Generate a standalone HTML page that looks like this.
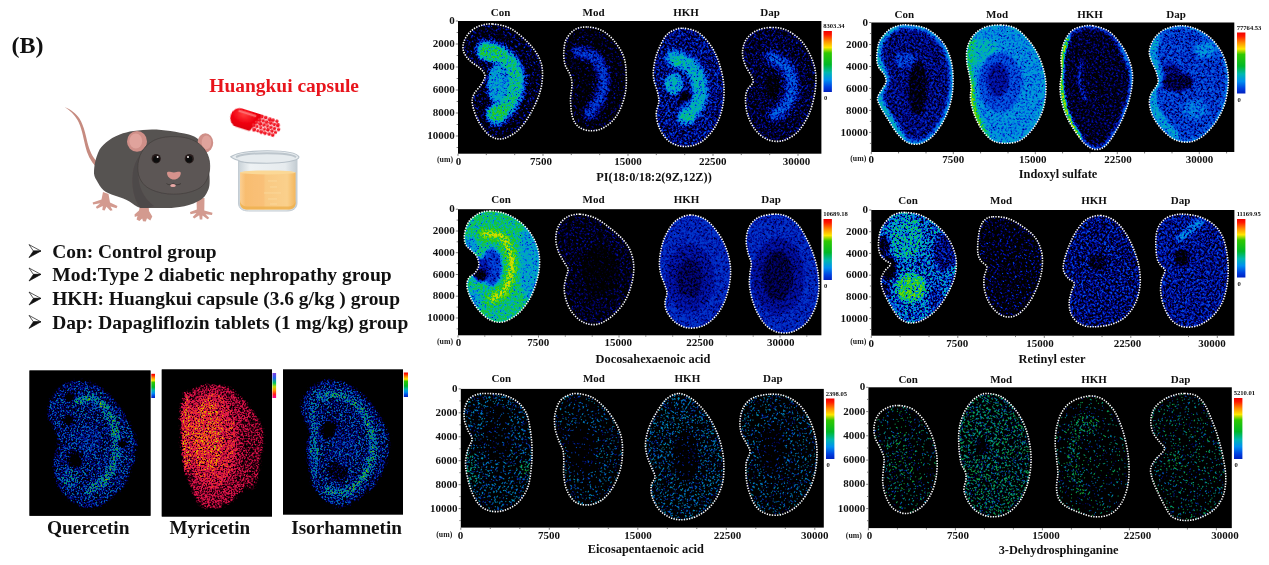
<!DOCTYPE html>
<html><head><meta charset="utf-8"><title>Figure B</title>
<style>
html,body{margin:0;padding:0;background:#fff;}
body{width:1269px;height:565px;overflow:hidden;font-family:"Liberation Serif",serif;}
svg{display:block;will-change:transform}
text{font-family:"Liberation Serif",serif;font-weight:bold;fill:#111}
.ax{font-size:11px}
.um{font-size:7.8px;fill:#222}
.cb{font-size:6.6px}
.tt{font-size:12.35px}
</style></head><body>
<svg width="1269" height="565" viewBox="0 0 1269 565">
<defs>
<linearGradient id="cbar" x1="0" y1="0" x2="0" y2="1">
<stop offset="0" stop-color="#f00000"/><stop offset="0.06" stop-color="#ff1800"/><stop offset="0.17" stop-color="#ff9000"/>
<stop offset="0.27" stop-color="#ffe800"/><stop offset="0.36" stop-color="#30c800"/><stop offset="0.55" stop-color="#00b828"/>
<stop offset="0.68" stop-color="#00b8b0"/><stop offset="0.8" stop-color="#0090f0"/><stop offset="0.92" stop-color="#0040e0"/><stop offset="1" stop-color="#0020c0"/>
</linearGradient>
<linearGradient id="cbar2" x1="0" y1="0" x2="0" y2="1">
<stop offset="0" stop-color="#8040e0"/><stop offset="0.2" stop-color="#2060f0"/><stop offset="0.4" stop-color="#00c060"/>
<stop offset="0.55" stop-color="#c0e000"/><stop offset="0.7" stop-color="#ff9000"/><stop offset="0.85" stop-color="#ff2020"/><stop offset="1" stop-color="#ff00a0"/>
</linearGradient>

<filter id="hm" color-interpolation-filters="sRGB" x="-5%" y="-5%" width="110%" height="110%">
<feGaussianBlur in="SourceGraphic" stdDeviation="1.6" result="src"/>
<feTurbulence type="fractalNoise" baseFrequency="0.56" numOctaves="2" seed="3" result="n"/>
<feColorMatrix in="n" type="matrix" values="0 1 0 0 0 0 1 0 0 0 0 1 0 0 0 0 0 0 0 1" result="ng"/>
<feColorMatrix in="n" type="matrix" values="0 0 2.1 0 -0.05 0 0 2.1 0 -0.05 0 0 2.1 0 -0.05 0 0 0 0 1" result="nv"/>
<feColorMatrix in="src" type="matrix" values="0 1 0 0 0 0 1 0 0 0 0 1 0 0 0 0 0 0 0 1" result="dens"/>
<feColorMatrix in="src" type="matrix" values="1 0 0 0 0 1 0 0 0 0 1 0 0 0 0 0 0 0 0 1" result="inten"/>
<feComposite in="ng" in2="dens" operator="arithmetic" k2="6.0" k3="6.0" k4="-4.199999999999999" result="mask"/>
<feComposite in="mask" in2="inten" operator="arithmetic" k1="1" result="p1"/>
<feComposite in="p1" in2="nv" operator="arithmetic" k1="1.08" result="p2"/>
<feGaussianBlur in="p2" stdDeviation="0.42" result="p3"/>
<feComponentTransfer in="p3"><feFuncR type="table" tableValues="0 0 0 0 0 0 .12 .6 1 1 1"/><feFuncG type="table" tableValues="0 0 .08 .32 .6 .74 .78 .86 .86 .47 0"/><feFuncB type="table" tableValues="0 .36 .68 .88 .86 .58 .12 0 0 0 0"/></feComponentTransfer>
</filter>
<filter id="hm2" color-interpolation-filters="sRGB" x="-5%" y="-5%" width="110%" height="110%">
<feGaussianBlur in="SourceGraphic" stdDeviation="1.6" result="src"/>
<feTurbulence type="fractalNoise" baseFrequency="0.8" numOctaves="2" seed="7" result="n"/>
<feColorMatrix in="n" type="matrix" values="0 1 0 0 0 0 1 0 0 0 0 1 0 0 0 0 0 0 0 1" result="ng"/>
<feColorMatrix in="n" type="matrix" values="0 0 2.1 0 -0.05 0 0 2.1 0 -0.05 0 0 2.1 0 -0.05 0 0 0 0 1" result="nv"/>
<feColorMatrix in="src" type="matrix" values="0 1 0 0 0 0 1 0 0 0 0 1 0 0 0 0 0 0 0 1" result="dens"/>
<feColorMatrix in="src" type="matrix" values="1 0 0 0 0 1 0 0 0 0 1 0 0 0 0 0 0 0 0 1" result="inten"/>
<feComposite in="ng" in2="dens" operator="arithmetic" k2="6.0" k3="6.0" k4="-4.199999999999999" result="mask"/>
<feComposite in="mask" in2="inten" operator="arithmetic" k1="1" result="p1"/>
<feComposite in="p1" in2="nv" operator="arithmetic" k1="1.08" result="p2"/>
<feGaussianBlur in="p2" stdDeviation="0.42" result="p3"/>
<feComponentTransfer in="p3"><feFuncR type="table" tableValues="0 .3 .62 .85 .93 .95 1 1 1 .9 .3"/><feFuncG type="table" tableValues="0 0 .03 .06 .1 .13 .22 .45 .65 .85 .8"/><feFuncB type="table" tableValues="0 .1 .2 .28 .32 .3 .15 .02 0 0 .2"/></feComponentTransfer>
</filter>
<filter id="hmf" color-interpolation-filters="sRGB" x="-5%" y="-5%" width="110%" height="110%">
<feGaussianBlur in="SourceGraphic" stdDeviation="1.6" result="src"/>
<feTurbulence type="fractalNoise" baseFrequency="0.8" numOctaves="2" seed="5" result="n"/>
<feColorMatrix in="n" type="matrix" values="0 1 0 0 0 0 1 0 0 0 0 1 0 0 0 0 0 0 0 1" result="ng"/>
<feColorMatrix in="n" type="matrix" values="0 0 2.1 0 -0.05 0 0 2.1 0 -0.05 0 0 2.1 0 -0.05 0 0 0 0 1" result="nv"/>
<feColorMatrix in="src" type="matrix" values="0 1 0 0 0 0 1 0 0 0 0 1 0 0 0 0 0 0 0 1" result="dens"/>
<feColorMatrix in="src" type="matrix" values="1 0 0 0 0 1 0 0 0 0 1 0 0 0 0 0 0 0 0 1" result="inten"/>
<feComposite in="ng" in2="dens" operator="arithmetic" k2="6.0" k3="6.0" k4="-4.199999999999999" result="mask"/>
<feComposite in="mask" in2="inten" operator="arithmetic" k1="1" result="p1"/>
<feComposite in="p1" in2="nv" operator="arithmetic" k1="1.08" result="p2"/>
<feGaussianBlur in="p2" stdDeviation="0.42" result="p3"/>
<feComponentTransfer in="p3"><feFuncR type="table" tableValues="0 0 0 0 0 0 .12 .6 1 1 1"/><feFuncG type="table" tableValues="0 0 .08 .32 .6 .74 .78 .86 .86 .47 0"/><feFuncB type="table" tableValues="0 .36 .68 .88 .86 .58 .12 0 0 0 0"/></feComponentTransfer>
</filter>
<filter id="hms" color-interpolation-filters="sRGB" x="-5%" y="-5%" width="110%" height="110%">
<feGaussianBlur in="SourceGraphic" stdDeviation="1.6" result="src"/>
<feTurbulence type="fractalNoise" baseFrequency="0.56" numOctaves="2" seed="11" result="n"/>
<feColorMatrix in="n" type="matrix" values="0 1 0 0 0 0 1 0 0 0 0 1 0 0 0 0 0 0 0 1" result="ng"/>
<feColorMatrix in="n" type="matrix" values="0 0 0.9 0 0.55 0 0 0.9 0 0.55 0 0 0.9 0 0.55 0 0 0 0 1" result="nv"/>
<feColorMatrix in="src" type="matrix" values="0 1 0 0 0 0 1 0 0 0 0 1 0 0 0 0 0 0 0 1" result="dens"/>
<feColorMatrix in="src" type="matrix" values="1 0 0 0 0 1 0 0 0 0 1 0 0 0 0 0 0 0 0 1" result="inten"/>
<feComposite in="ng" in2="dens" operator="arithmetic" k2="16" k3="16" k4="-10.88" result="mask"/>
<feComposite in="mask" in2="inten" operator="arithmetic" k1="1" result="p1"/>
<feComposite in="p1" in2="nv" operator="arithmetic" k1="1.0" result="p2"/>
<feComponentTransfer in="p2" result="p3"><feFuncR type="table" tableValues="0 0 0 0 0 0 .12 .6 1 1 1"/><feFuncG type="table" tableValues="0 0 .08 .32 .6 .74 .78 .86 .86 .47 0"/><feFuncB type="table" tableValues="0 .36 .68 .88 .86 .58 .12 0 0 0 0"/></feComponentTransfer>
<feGaussianBlur in="p3" stdDeviation="0.5"/>
</filter>
</defs>
<rect x="458" y="21" width="363.4" height="132.7" fill="#000"/>
<path d="M455.8 21h2.2M456.6 32.5h1.4M455.8 44h2.2M456.6 55.5h1.4M455.8 67h2.2M456.6 78.5h1.4M455.8 90h2.2M456.6 101.5h1.4M455.8 113h2.2M456.6 124.5h1.4M455.8 136h2.2M456.6 147.5h1.4M458 153.7v2.2M486.3 153.7v1.4M514.7 153.7v1.4M543 153.7v2.2M571.3 153.7v1.4M599.7 153.7v1.4M628 153.7v2.2M656.3 153.7v1.4M684.7 153.7v1.4M713 153.7v2.2M741.3 153.7v1.4M769.7 153.7v1.4M798 153.7v2.2" stroke="#444" stroke-width="0.7" fill="none"/>
<text class="ax" x="454.8" y="24.1" text-anchor="end">0</text>
<text class="ax" x="454.8" y="47.1" text-anchor="end">2000</text>
<text class="ax" x="454.8" y="70.1" text-anchor="end">4000</text>
<text class="ax" x="454.8" y="93.1" text-anchor="end">6000</text>
<text class="ax" x="454.8" y="116.1" text-anchor="end">8000</text>
<text class="ax" x="454.8" y="139.1" text-anchor="end">10000</text>
<text class="ax" x="458.4" y="164.7" text-anchor="middle">0</text>
<text class="ax" x="541" y="164.7" text-anchor="middle">7500</text>
<text class="ax" x="628" y="164.7" text-anchor="middle">15000</text>
<text class="ax" x="712.8" y="164.7" text-anchor="middle">22500</text>
<text class="ax" x="796.5" y="164.7" text-anchor="middle">30000</text>
<text class="um" x="453" y="162.3" text-anchor="end">(um)</text>
<rect x="823.5" y="31" width="8.4" height="61" fill="url(#cbar)"/>
<text class="cb" x="823.2" y="28.4">8303.34</text>
<text class="cb" x="824" y="100">0</text>
<rect x="871.3" y="22.5" width="363" height="129.5" fill="#000"/>
<path d="M869.1 22.5h2.2M869.9 33.5h1.4M869.1 44.5h2.2M869.9 55.5h1.4M869.1 66.5h2.2M869.9 77.5h1.4M869.1 88.4h2.2M869.9 99.4h1.4M869.1 110.4h2.2M869.9 121.4h1.4M869.1 132.4h2.2M869.9 143.4h1.4M871.3 152v2.2M898.6 152v1.4M926 152v1.4M953.3 152v2.2M980.6 152v1.4M1008 152v1.4M1035.3 152v2.2M1062.6 152v1.4M1090 152v1.4M1117.3 152v2.2M1144.6 152v1.4M1172 152v1.4M1199.3 152v2.2M1226.6 152v1.4" stroke="#444" stroke-width="0.7" fill="none"/>
<text class="ax" x="868.1" y="25.6" text-anchor="end">0</text>
<text class="ax" x="868.1" y="47.6" text-anchor="end">2000</text>
<text class="ax" x="868.1" y="69.6" text-anchor="end">4000</text>
<text class="ax" x="868.1" y="91.5" text-anchor="end">6000</text>
<text class="ax" x="868.1" y="113.5" text-anchor="end">8000</text>
<text class="ax" x="868.1" y="135.5" text-anchor="end">10000</text>
<text class="ax" x="871.2" y="163" text-anchor="middle">0</text>
<text class="ax" x="953.3" y="163" text-anchor="middle">7500</text>
<text class="ax" x="1032.7" y="163" text-anchor="middle">15000</text>
<text class="ax" x="1117.9" y="163" text-anchor="middle">22500</text>
<text class="ax" x="1199.4" y="163" text-anchor="middle">30000</text>
<text class="um" x="866.3" y="160.6" text-anchor="end">(um)</text>
<rect x="1237" y="32.5" width="8.4" height="61" fill="url(#cbar)"/>
<text class="cb" x="1236.7" y="29.9">77764.53</text>
<text class="cb" x="1237.5" y="101.5">0</text>
<rect x="458" y="209.2" width="363.4" height="126.1" fill="#000"/>
<path d="M455.8 209.2h2.2M456.6 220.1h1.4M455.8 231h2.2M456.6 241.8h1.4M455.8 252.7h2.2M456.6 263.6h1.4M455.8 274.5h2.2M456.6 285.4h1.4M455.8 296.2h2.2M456.6 307.1h1.4M455.8 318h2.2M456.6 328.9h1.4M458 335.3v2.2M484.8 335.3v1.4M511.7 335.3v1.4M538.5 335.3v2.2M565.3 335.3v1.4M592.2 335.3v1.4M619 335.3v2.2M645.8 335.3v1.4M672.7 335.3v1.4M699.5 335.3v2.2M726.3 335.3v1.4M753.2 335.3v1.4M780 335.3v2.2M806.8 335.3v1.4" stroke="#444" stroke-width="0.7" fill="none"/>
<text class="ax" x="454.8" y="212.3" text-anchor="end">0</text>
<text class="ax" x="454.8" y="234.1" text-anchor="end">2000</text>
<text class="ax" x="454.8" y="255.8" text-anchor="end">4000</text>
<text class="ax" x="454.8" y="277.6" text-anchor="end">6000</text>
<text class="ax" x="454.8" y="299.3" text-anchor="end">8000</text>
<text class="ax" x="454.8" y="321.1" text-anchor="end">10000</text>
<text class="ax" x="458.4" y="346.3" text-anchor="middle">0</text>
<text class="ax" x="538.3" y="346.3" text-anchor="middle">7500</text>
<text class="ax" x="618.3" y="346.3" text-anchor="middle">15000</text>
<text class="ax" x="700" y="346.3" text-anchor="middle">22500</text>
<text class="ax" x="780.7" y="346.3" text-anchor="middle">30000</text>
<text class="um" x="453" y="343.9" text-anchor="end">(um)</text>
<rect x="823.5" y="219" width="8.4" height="61" fill="url(#cbar)"/>
<text class="cb" x="823.2" y="216.4">10689.18</text>
<text class="cb" x="824" y="288">0</text>
<rect x="871.3" y="210" width="363.1" height="125.7" fill="#000"/>
<path d="M869.1 210h2.2M869.9 220.9h1.4M869.1 231.7h2.2M869.9 242.6h1.4M869.1 253.4h2.2M869.9 264.3h1.4M869.1 275.2h2.2M869.9 286h1.4M869.1 296.9h2.2M869.9 307.7h1.4M869.1 318.6h2.2M869.9 329.5h1.4M871.3 335.7v2.2M900.1 335.7v1.4M929 335.7v1.4M957.8 335.7v2.2M986.6 335.7v1.4M1015.5 335.7v1.4M1044.3 335.7v2.2M1073.1 335.7v1.4M1102 335.7v1.4M1130.8 335.7v2.2M1159.6 335.7v1.4M1188.5 335.7v1.4M1217.3 335.7v2.2" stroke="#444" stroke-width="0.7" fill="none"/>
<text class="ax" x="868.1" y="213.1" text-anchor="end">0</text>
<text class="ax" x="868.1" y="234.8" text-anchor="end">2000</text>
<text class="ax" x="868.1" y="256.5" text-anchor="end">4000</text>
<text class="ax" x="868.1" y="278.3" text-anchor="end">6000</text>
<text class="ax" x="868.1" y="300" text-anchor="end">8000</text>
<text class="ax" x="868.1" y="321.7" text-anchor="end">10000</text>
<text class="ax" x="871.2" y="346.7" text-anchor="middle">0</text>
<text class="ax" x="957.3" y="346.7" text-anchor="middle">7500</text>
<text class="ax" x="1040.1" y="346.7" text-anchor="middle">15000</text>
<text class="ax" x="1127.4" y="346.7" text-anchor="middle">22500</text>
<text class="ax" x="1211.9" y="346.7" text-anchor="middle">30000</text>
<text class="um" x="866.3" y="344.3" text-anchor="end">(um)</text>
<rect x="1237" y="219" width="8.4" height="58.5" fill="url(#cbar)"/>
<text class="cb" x="1236.7" y="216.4">11169.95</text>
<text class="cb" x="1237.5" y="285.5">0</text>
<rect x="460.8" y="388.9" width="363" height="138.7" fill="#000"/>
<path d="M458.6 388.9h2.2M459.4 400.9h1.4M458.6 412.8h2.2M459.4 424.8h1.4M458.6 436.8h2.2M459.4 448.8h1.4M458.6 460.7h2.2M459.4 472.7h1.4M458.6 484.7h2.2M459.4 496.6h1.4M458.6 508.6h2.2M459.4 520.6h1.4M460.8 527.6v2.2M490.3 527.6v1.4M519.8 527.6v1.4M549.3 527.6v2.2M578.8 527.6v1.4M608.3 527.6v1.4M637.8 527.6v2.2M667.3 527.6v1.4M696.8 527.6v1.4M726.3 527.6v2.2M755.8 527.6v1.4M785.3 527.6v1.4M814.8 527.6v2.2" stroke="#444" stroke-width="0.7" fill="none"/>
<text class="ax" x="457.6" y="392" text-anchor="end">0</text>
<text class="ax" x="457.6" y="415.9" text-anchor="end">2000</text>
<text class="ax" x="457.6" y="439.9" text-anchor="end">4000</text>
<text class="ax" x="457.6" y="463.8" text-anchor="end">6000</text>
<text class="ax" x="457.6" y="487.8" text-anchor="end">8000</text>
<text class="ax" x="457.6" y="511.7" text-anchor="end">10000</text>
<text class="ax" x="460.6" y="538.6" text-anchor="middle">0</text>
<text class="ax" x="549" y="538.6" text-anchor="middle">7500</text>
<text class="ax" x="638.1" y="538.6" text-anchor="middle">15000</text>
<text class="ax" x="727.4" y="538.6" text-anchor="middle">22500</text>
<text class="ax" x="814.7" y="538.6" text-anchor="middle">30000</text>
<text class="um" x="452.3" y="537.2" text-anchor="end">(um)</text>
<rect x="826" y="398.5" width="8.4" height="60.5" fill="url(#cbar)"/>
<text class="cb" x="825.7" y="395.9">2398.05</text>
<text class="cb" x="826.5" y="467">0</text>
<rect x="868.4" y="387.3" width="363.4" height="140.8" fill="#000"/>
<path d="M866.2 387.3h2.2M867 399.4h1.4M866.2 411.6h2.2M867 423.7h1.4M866.2 435.8h2.2M867 448h1.4M866.2 460.1h2.2M867 472.2h1.4M866.2 484.3h2.2M867 496.5h1.4M866.2 508.6h2.2M867 520.7h1.4M868.4 528.1v2.2M897.4 528.1v1.4M926.4 528.1v1.4M955.4 528.1v2.2M984.4 528.1v1.4M1013.4 528.1v1.4M1042.4 528.1v2.2M1071.4 528.1v1.4M1100.4 528.1v1.4M1129.4 528.1v2.2M1158.4 528.1v1.4M1187.4 528.1v1.4M1216.4 528.1v2.2" stroke="#444" stroke-width="0.7" fill="none"/>
<text class="ax" x="865.2" y="390.4" text-anchor="end">0</text>
<text class="ax" x="865.2" y="414.7" text-anchor="end">2000</text>
<text class="ax" x="865.2" y="438.9" text-anchor="end">4000</text>
<text class="ax" x="865.2" y="463.2" text-anchor="end">6000</text>
<text class="ax" x="865.2" y="487.4" text-anchor="end">8000</text>
<text class="ax" x="865.2" y="511.7" text-anchor="end">10000</text>
<text class="ax" x="869.6" y="539.1" text-anchor="middle">0</text>
<text class="ax" x="958" y="539.1" text-anchor="middle">7500</text>
<text class="ax" x="1046.1" y="539.1" text-anchor="middle">15000</text>
<text class="ax" x="1137.5" y="539.1" text-anchor="middle">22500</text>
<text class="ax" x="1224.9" y="539.1" text-anchor="middle">30000</text>
<text class="um" x="861.9" y="537.7" text-anchor="end">(um)</text>
<rect x="1234" y="398" width="8.4" height="61" fill="url(#cbar)"/>
<text class="cb" x="1233.7" y="395.4">5210.01</text>
<text class="cb" x="1234.5" y="467">0</text>
<text class="ax" x="500.5" y="16" text-anchor="middle">Con</text>
<text class="ax" x="593.5" y="16" text-anchor="middle">Mod</text>
<text class="ax" x="686" y="16" text-anchor="middle">HKH</text>
<text class="ax" x="770" y="16" text-anchor="middle">Dap</text>
<text class="ax" x="904.3" y="17.6" text-anchor="middle">Con</text>
<text class="ax" x="997" y="17.6" text-anchor="middle">Mod</text>
<text class="ax" x="1090" y="17.6" text-anchor="middle">HKH</text>
<text class="ax" x="1176" y="17.6" text-anchor="middle">Dap</text>
<text class="ax" x="501" y="203.4" text-anchor="middle">Con</text>
<text class="ax" x="593.5" y="203.4" text-anchor="middle">Mod</text>
<text class="ax" x="686.5" y="203.4" text-anchor="middle">HKH</text>
<text class="ax" x="771" y="203.4" text-anchor="middle">Dap</text>
<text class="ax" x="908" y="204.2" text-anchor="middle">Con</text>
<text class="ax" x="1001" y="204.2" text-anchor="middle">Mod</text>
<text class="ax" x="1094" y="204.2" text-anchor="middle">HKH</text>
<text class="ax" x="1180.5" y="204.2" text-anchor="middle">Dap</text>
<text class="ax" x="501.3" y="382.2" text-anchor="middle">Con</text>
<text class="ax" x="593.9" y="382.2" text-anchor="middle">Mod</text>
<text class="ax" x="687.4" y="382.2" text-anchor="middle">HKH</text>
<text class="ax" x="772.8" y="382.2" text-anchor="middle">Dap</text>
<text class="ax" x="908.2" y="383.4" text-anchor="middle">Con</text>
<text class="ax" x="1001.2" y="383.4" text-anchor="middle">Mod</text>
<text class="ax" x="1094" y="383.4" text-anchor="middle">HKH</text>
<text class="ax" x="1180.5" y="383.4" text-anchor="middle">Dap</text>
<text class="tt" x="654" y="181" text-anchor="middle">PI(18:0/18:2(9Z,12Z))</text>
<text class="tt" x="1058" y="178.2" text-anchor="middle">Indoxyl sulfate</text>
<text class="tt" x="653" y="363.2" text-anchor="middle">Docosahexaenoic acid</text>
<text class="tt" x="1052" y="362.5" text-anchor="middle">Retinyl ester</text>
<text class="tt" x="645.8" y="552.9" text-anchor="middle">Eicosapentaenoic acid</text>
<text class="tt" x="1058.6" y="554" text-anchor="middle">3-Dehydrosphinganine</text>
<clipPath id="c1"><path d="M492.5 24C497.5 24.4 504.2 25.2 510 28.2C515.8 31.2 522.7 37.2 527.5 42C532.3 46.8 536.2 52 538.8 57C541.2 62 542.3 66.2 542.5 72C542.7 77.8 542.1 84.9 540 92C537.9 99.1 533.8 108 530 114.5C526.2 121 522.1 126.7 517.5 130.8C512.9 134.8 507.1 137.9 502.5 138.8C497.9 139.6 494 138.5 490 135.8C486 133 481.7 127.2 478.8 122C475.8 116.8 473.3 109.1 472.5 104.5C471.7 99.9 472.3 97.8 473.8 94.5C475.2 91.2 479.4 87.6 481.2 84.5C483.1 81.4 485.2 78.5 485 75.8C484.8 73 482.5 70.8 480 68.2C477.5 65.8 472.7 63.5 470 60.8C467.3 58 464.8 55.1 463.8 52C462.7 48.9 462.7 45.3 463.8 42C464.8 38.7 467.3 34.7 470 32C472.7 29.3 476.2 27.1 480 25.8C483.8 24.4 487.5 23.6 492.5 24Z"/></clipPath>
<g clip-path="url(#c1)"><g transform="rotate(33 503.1 81.4)" filter="url(#hm)"><g transform="rotate(-33 503.1 81.4)">
<rect x="433.8" y="-6" width="138.8" height="174.8" fill="rgb(71,41,0)"/>
<path d="M485 50C487.3 50.7 494.5 51.3 499 54C503.5 56.7 509.2 61 512 66C514.8 71 515.8 78 515.5 84C515.2 90 513.1 96.7 510 102C506.9 107.3 499.2 113.7 497 116" fill="none" stroke="rgb(92,97,0)" stroke-width="21" stroke-linecap="round" stroke-linejoin="round"/>
<path d="M485 50C487.3 50.7 494.5 51.3 499 54C503.5 56.7 509.2 61 512 66C514.8 71 515.8 78 515.5 84C515.2 90 513.1 96.7 510 102C506.9 107.3 499.2 113.7 497 116" fill="none" stroke="rgb(133,128,0)" stroke-width="14" stroke-linecap="round" stroke-linejoin="round"/>
<ellipse cx="491" cy="53" rx="12" ry="9" fill="rgb(145,133,0)"/>
<ellipse cx="497" cy="113" rx="11" ry="8" fill="rgb(145,133,0)"/>
<ellipse cx="497" cy="84" rx="10" ry="20" fill="rgb(107,122,0)"/>
</g></g></g>
<path d="M492.5 24C497.5 24.4 504.2 25.2 510 28.2C515.8 31.2 522.7 37.2 527.5 42C532.3 46.8 536.2 52 538.8 57C541.2 62 542.3 66.2 542.5 72C542.7 77.8 542.1 84.9 540 92C537.9 99.1 533.8 108 530 114.5C526.2 121 522.1 126.7 517.5 130.8C512.9 134.8 507.1 137.9 502.5 138.8C497.9 139.6 494 138.5 490 135.8C486 133 481.7 127.2 478.8 122C475.8 116.8 473.3 109.1 472.5 104.5C471.7 99.9 472.3 97.8 473.8 94.5C475.2 91.2 479.4 87.6 481.2 84.5C483.1 81.4 485.2 78.5 485 75.8C484.8 73 482.5 70.8 480 68.2C477.5 65.8 472.7 63.5 470 60.8C467.3 58 464.8 55.1 463.8 52C462.7 48.9 462.7 45.3 463.8 42C464.8 38.7 467.3 34.7 470 32C472.7 29.3 476.2 27.1 480 25.8C483.8 24.4 487.5 23.6 492.5 24Z" fill="none" stroke="#fff" stroke-width="1.6" stroke-dasharray="1.35 1.25"/>
<clipPath id="c2"><path d="M587.5 27C592.1 27.2 597.9 28.2 602.5 30.8C607.1 33.2 611.5 37.6 615 42C618.5 46.4 621.9 51.6 623.8 57C625.6 62.4 626 68.2 626.2 74.5C626.5 80.8 626.5 87.8 625 94.5C623.5 101.2 620.8 109.1 617.5 114.5C614.2 119.9 609.4 124.3 605 127C600.6 129.7 595.6 130.8 591.2 130.8C586.9 130.8 581.9 129.3 578.8 127C575.6 124.7 573.9 121.6 572.5 117C571.1 112.4 570.6 104.9 570.5 99.5C570.4 94.1 572.1 88.7 572 84.5C571.9 80.3 571.2 77.8 570 74.5C568.8 71.2 566 68.2 565 64.5C564 60.8 563.5 56.2 563.8 52C564 47.8 564.4 43.2 566.2 39.5C568.1 35.8 571.5 31.6 575 29.5C578.5 27.4 582.9 26.8 587.5 27Z"/></clipPath>
<g clip-path="url(#c2)"><g transform="rotate(33 595 78.9)" filter="url(#hm)"><g transform="rotate(-33 595 78.9)">
<rect x="533.8" y="-3" width="122.5" height="163.8" fill="rgb(56,33,0)"/>
<path d="M578 52C580.8 53 590.7 53.7 595 58C599.3 62.3 603.2 71.3 604 78C604.8 84.7 602.3 92.2 600 98C597.7 103.8 591.7 110.5 590 113" fill="none" stroke="rgb(64,69,0)" stroke-width="16" stroke-linecap="round" stroke-linejoin="round"/>
<path d="M578 52C580.8 53 590.7 53.7 595 58C599.3 62.3 603.2 71.3 604 78C604.8 84.7 602.3 92.2 600 98C597.7 103.8 591.7 110.5 590 113" fill="none" stroke="rgb(71,102,0)" stroke-width="9" stroke-linecap="round" stroke-linejoin="round"/>
<ellipse cx="584" cy="84" rx="6" ry="14" fill="rgb(46,26,0)"/>
</g></g></g>
<path d="M587.5 27C592.1 27.2 597.9 28.2 602.5 30.8C607.1 33.2 611.5 37.6 615 42C618.5 46.4 621.9 51.6 623.8 57C625.6 62.4 626 68.2 626.2 74.5C626.5 80.8 626.5 87.8 625 94.5C623.5 101.2 620.8 109.1 617.5 114.5C614.2 119.9 609.4 124.3 605 127C600.6 129.7 595.6 130.8 591.2 130.8C586.9 130.8 581.9 129.3 578.8 127C575.6 124.7 573.9 121.6 572.5 117C571.1 112.4 570.6 104.9 570.5 99.5C570.4 94.1 572.1 88.7 572 84.5C571.9 80.3 571.2 77.8 570 74.5C568.8 71.2 566 68.2 565 64.5C564 60.8 563.5 56.2 563.8 52C564 47.8 564.4 43.2 566.2 39.5C568.1 35.8 571.5 31.6 575 29.5C578.5 27.4 582.9 26.8 587.5 27Z" fill="none" stroke="#fff" stroke-width="1.6" stroke-dasharray="1.35 1.25"/>
<clipPath id="c3"><path d="M682.5 28.2C686.7 28.5 692.9 29.3 697.5 32C702.1 34.7 706.5 39.5 710 44.5C713.5 49.5 716.5 55.3 718.8 62C721 68.7 723.1 77 723.8 84.5C724.4 92 724 99.9 722.5 107C721 114.1 718.5 121.2 715 127C711.5 132.8 706.2 138.8 701.2 142C696.2 145.2 690.2 146.5 685 146.5C679.8 146.5 674.2 144.8 670 142C665.8 139.2 662.3 134.1 660 129.5C657.7 124.9 656.5 119.1 656.2 114.5C656 109.9 658.5 105.8 658.8 102C659 98.2 658.3 95.8 657.5 92C656.7 88.2 654.4 83.7 653.8 79.5C653.1 75.3 653.1 71.6 653.8 67C654.4 62.4 655.6 57 657.5 52C659.4 47 662.5 40.5 665 37C667.5 33.5 669.6 32.2 672.5 30.8C675.4 29.3 678.3 28 682.5 28.2Z"/></clipPath>
<g clip-path="url(#c3)"><g transform="rotate(33 688.8 87.4)" filter="url(#hm)"><g transform="rotate(-33 688.8 87.4)">
<rect x="623.8" y="-1.8" width="130" height="178.2" fill="rgb(74,69,0)"/>
<path d="M674 58C676.7 59.3 685.8 61.7 690 66C694.2 70.3 697.8 77.7 699 84C700.2 90.3 699.2 98.5 697 104C694.8 109.5 687.8 114.8 686 117" fill="none" stroke="rgb(92,102,0)" stroke-width="19" stroke-linecap="round" stroke-linejoin="round"/>
<path d="M674 58C676.7 59.3 685.8 61.7 690 66C694.2 70.3 697.8 77.7 699 84C700.2 90.3 699.2 98.5 697 104C694.8 109.5 687.8 114.8 686 117" fill="none" stroke="rgb(117,128,0)" stroke-width="12" stroke-linecap="round" stroke-linejoin="round"/>
<ellipse cx="674" cy="84" rx="9" ry="11" fill="rgb(115,122,0)"/>
<ellipse cx="687" cy="117" rx="8" ry="6" fill="rgb(128,128,0)"/>
<ellipse cx="678" cy="62" rx="6" ry="5" fill="rgb(128,128,0)"/>
<ellipse cx="686" cy="96" rx="6" ry="4.5" fill="rgb(31,38,0)"/>
</g></g></g>
<path d="M682.5 28.2C686.7 28.5 692.9 29.3 697.5 32C702.1 34.7 706.5 39.5 710 44.5C713.5 49.5 716.5 55.3 718.8 62C721 68.7 723.1 77 723.8 84.5C724.4 92 724 99.9 722.5 107C721 114.1 718.5 121.2 715 127C711.5 132.8 706.2 138.8 701.2 142C696.2 145.2 690.2 146.5 685 146.5C679.8 146.5 674.2 144.8 670 142C665.8 139.2 662.3 134.1 660 129.5C657.7 124.9 656.5 119.1 656.2 114.5C656 109.9 658.5 105.8 658.8 102C659 98.2 658.3 95.8 657.5 92C656.7 88.2 654.4 83.7 653.8 79.5C653.1 75.3 653.1 71.6 653.8 67C654.4 62.4 655.6 57 657.5 52C659.4 47 662.5 40.5 665 37C667.5 33.5 669.6 32.2 672.5 30.8C675.4 29.3 678.3 28 682.5 28.2Z" fill="none" stroke="#fff" stroke-width="1.6" stroke-dasharray="1.35 1.25"/>
<clipPath id="c4"><path d="M770 27.5C774.8 27.3 780 27.5 785 29.5C790 31.5 795.8 35.3 800 39.5C804.2 43.7 807.4 49.1 810 54.5C812.6 59.9 814.7 65.8 815.5 72C816.3 78.2 816.1 84.9 815 92C813.9 99.1 811.7 107.8 808.8 114.5C805.8 121.2 801.9 127.6 797.5 132C793.1 136.4 787.5 139.5 782.5 140.8C777.5 142 772.1 141.4 767.5 139.5C762.9 137.6 758.3 133.7 755 129.5C751.7 125.3 749.1 119.5 747.5 114.5C745.9 109.5 745.5 103.7 745.5 99.5C745.5 95.3 746.2 92.3 747.5 89.5C748.8 86.7 752.4 84.8 753 82.5C753.6 80.2 752.6 78.8 751.2 75.8C749.9 72.8 746.5 68.5 745 64.5C743.5 60.5 742.3 56.2 742.5 52C742.7 47.8 744 43 746.2 39.5C748.5 36 752.3 32.8 756.2 30.8C760.2 28.8 765.2 27.7 770 27.5Z"/></clipPath>
<g clip-path="url(#c4)"><g transform="rotate(33 779 84.1)" filter="url(#hm)"><g transform="rotate(-33 779 84.1)">
<rect x="712.5" y="-2.5" width="133" height="173.2" fill="rgb(61,51,0)"/>
<path d="M771 57C773.5 58.5 782.5 61.5 786 66C789.5 70.5 791.8 77.7 792 84C792.2 90.3 789.8 98.8 787 104C784.2 109.2 777 113.2 775 115" fill="none" stroke="rgb(71,76,0)" stroke-width="17" stroke-linecap="round" stroke-linejoin="round"/>
<path d="M771 57C773.5 58.5 782.5 61.5 786 66C789.5 70.5 791.8 77.7 792 84C792.2 90.3 789.8 98.8 787 104C784.2 109.2 777 113.2 775 115" fill="none" stroke="rgb(84,107,0)" stroke-width="9" stroke-linecap="round" stroke-linejoin="round"/>
<ellipse cx="772" cy="86" rx="7" ry="12" fill="rgb(43,31,0)"/>
</g></g></g>
<path d="M770 27.5C774.8 27.3 780 27.5 785 29.5C790 31.5 795.8 35.3 800 39.5C804.2 43.7 807.4 49.1 810 54.5C812.6 59.9 814.7 65.8 815.5 72C816.3 78.2 816.1 84.9 815 92C813.9 99.1 811.7 107.8 808.8 114.5C805.8 121.2 801.9 127.6 797.5 132C793.1 136.4 787.5 139.5 782.5 140.8C777.5 142 772.1 141.4 767.5 139.5C762.9 137.6 758.3 133.7 755 129.5C751.7 125.3 749.1 119.5 747.5 114.5C745.9 109.5 745.5 103.7 745.5 99.5C745.5 95.3 746.2 92.3 747.5 89.5C748.8 86.7 752.4 84.8 753 82.5C753.6 80.2 752.6 78.8 751.2 75.8C749.9 72.8 746.5 68.5 745 64.5C743.5 60.5 742.3 56.2 742.5 52C742.7 47.8 744 43 746.2 39.5C748.5 36 752.3 32.8 756.2 30.8C760.2 28.8 765.2 27.7 770 27.5Z" fill="none" stroke="#fff" stroke-width="1.6" stroke-dasharray="1.35 1.25"/>
<clipPath id="c5"><path d="M908 25C912.6 25.4 920.1 25.8 925.5 28.2C930.9 30.7 936.5 35.1 940.5 39.5C944.5 43.9 947.2 48.7 949.2 54.5C951.3 60.3 952.6 67.4 953 74.5C953.4 81.6 953 89.9 951.8 97C950.5 104.1 948.4 110.8 945.5 117C942.6 123.2 938.2 130.1 934.2 134.5C930.3 138.9 925.9 141.8 921.8 143.2C917.6 144.7 913.2 144.7 909.2 143.2C905.3 141.8 901.5 138.5 898 134.5C894.5 130.5 890.9 124.1 888 119.5C885.1 114.9 882.2 110.5 880.5 107C878.8 103.5 877.3 101.2 877.5 98.2C877.7 95.3 880.3 92.2 881.8 89.5C883.2 86.8 885.6 84.5 886 82C886.4 79.5 885.5 77 884.2 74.5C883 72 879.8 69.9 878.5 67C877.2 64.1 876.6 61.2 876.8 57C876.9 52.8 877.4 46.4 879.2 42C881.1 37.6 884.9 33.5 888 30.8C891.1 28 894.7 26.7 898 25.8C901.3 24.8 903.4 24.6 908 25Z"/></clipPath>
<g clip-path="url(#c5)"><g transform="rotate(33 914.9 84.1)" filter="url(#hm)"><g transform="rotate(-33 914.9 84.1)">
<rect x="846.8" y="-5" width="136.2" height="178.2" fill="rgb(61,76,0)"/>
<path d="M908 25C912.6 25.4 920.1 25.8 925.5 28.2C930.9 30.7 936.5 35.1 940.5 39.5C944.5 43.9 947.2 48.7 949.2 54.5C951.3 60.3 952.6 67.4 953 74.5C953.4 81.6 953 89.9 951.8 97C950.5 104.1 948.4 110.8 945.5 117C942.6 123.2 938.2 130.1 934.2 134.5C930.3 138.9 925.9 141.8 921.8 143.2C917.6 144.7 913.2 144.7 909.2 143.2C905.3 141.8 901.5 138.5 898 134.5C894.5 130.5 890.9 124.1 888 119.5C885.1 114.9 882.2 110.5 880.5 107C878.8 103.5 877.3 101.2 877.5 98.2C877.7 95.3 880.3 92.2 881.8 89.5C883.2 86.8 885.6 84.5 886 82C886.4 79.5 885.5 77 884.2 74.5C883 72 879.8 69.9 878.5 67C877.2 64.1 876.6 61.2 876.8 57C876.9 52.8 877.4 46.4 879.2 42C881.1 37.6 884.9 33.5 888 30.8C891.1 28 894.7 26.7 898 25.8C901.3 24.8 903.4 24.6 908 25Z" fill="none" stroke="rgb(84,128,0)" stroke-width="8"/>
<path d="M908 25C912.6 25.4 920.1 25.8 925.5 28.2C930.9 30.7 936.5 35.1 940.5 39.5C944.5 43.9 947.2 48.7 949.2 54.5C951.3 60.3 952.6 67.4 953 74.5C953.4 81.6 953 89.9 951.8 97C950.5 104.1 948.4 110.8 945.5 117C942.6 123.2 938.2 130.1 934.2 134.5C930.3 138.9 925.9 141.8 921.8 143.2C917.6 144.7 913.2 144.7 909.2 143.2C905.3 141.8 901.5 138.5 898 134.5C894.5 130.5 890.9 124.1 888 119.5C885.1 114.9 882.2 110.5 880.5 107C878.8 103.5 877.3 101.2 877.5 98.2C877.7 95.3 880.3 92.2 881.8 89.5C883.2 86.8 885.6 84.5 886 82C886.4 79.5 885.5 77 884.2 74.5C883 72 879.8 69.9 878.5 67C877.2 64.1 876.6 61.2 876.8 57C876.9 52.8 877.4 46.4 879.2 42C881.1 37.6 884.9 33.5 888 30.8C891.1 28 894.7 26.7 898 25.8C901.3 24.8 903.4 24.6 908 25Z" fill="none" stroke="rgb(102,140,0)" stroke-width="4"/>
<ellipse cx="918" cy="88" rx="9" ry="26" fill="rgb(41,41,0)"/>
<path d="M893 28C891 30 883.5 35 881 40C878.5 45 877.5 52.2 878 58C878.5 63.8 883.8 68.8 884 75C884.2 81.2 878.3 88.3 879 95C879.7 101.7 884.2 108 888 115C891.8 122 899.7 133.3 902 137" fill="none" stroke="rgb(112,153,0)" stroke-width="6" stroke-linecap="round" stroke-linejoin="round"/>
<ellipse cx="905" cy="60" rx="10" ry="8" fill="rgb(76,102,0)"/>
</g></g></g>
<path d="M908 25C912.6 25.4 920.1 25.8 925.5 28.2C930.9 30.7 936.5 35.1 940.5 39.5C944.5 43.9 947.2 48.7 949.2 54.5C951.3 60.3 952.6 67.4 953 74.5C953.4 81.6 953 89.9 951.8 97C950.5 104.1 948.4 110.8 945.5 117C942.6 123.2 938.2 130.1 934.2 134.5C930.3 138.9 925.9 141.8 921.8 143.2C917.6 144.7 913.2 144.7 909.2 143.2C905.3 141.8 901.5 138.5 898 134.5C894.5 130.5 890.9 124.1 888 119.5C885.1 114.9 882.2 110.5 880.5 107C878.8 103.5 877.3 101.2 877.5 98.2C877.7 95.3 880.3 92.2 881.8 89.5C883.2 86.8 885.6 84.5 886 82C886.4 79.5 885.5 77 884.2 74.5C883 72 879.8 69.9 878.5 67C877.2 64.1 876.6 61.2 876.8 57C876.9 52.8 877.4 46.4 879.2 42C881.1 37.6 884.9 33.5 888 30.8C891.1 28 894.7 26.7 898 25.8C901.3 24.8 903.4 24.6 908 25Z" fill="none" stroke="#fff" stroke-width="1.6" stroke-dasharray="1.35 1.25"/>
<clipPath id="c6"><path d="M1000.5 25C1005.5 25.2 1010.9 25.8 1015.5 28.2C1020.1 30.7 1024.2 35.1 1028 39.5C1031.8 43.9 1035.3 49.1 1038 54.5C1040.7 59.9 1042.9 66.2 1044.2 72C1045.6 77.8 1046.2 83.2 1046 89.5C1045.8 95.8 1045 103.2 1043 109.5C1041 115.8 1037.8 122 1034.2 127C1030.7 132 1026.1 136.8 1021.8 139.5C1017.4 142.2 1012.8 143 1008 143.2C1003.2 143.5 997.4 143 993 140.8C988.6 138.5 984.9 133.9 981.8 129.5C978.6 125.1 976.1 119.5 974.2 114.5C972.4 109.5 971 104.1 970.5 99.5C970 94.9 971.2 91.2 971 87C970.8 82.8 970 78.7 969.2 74.5C968.5 70.3 967 66.6 966.8 62C966.5 57.4 966.2 51.6 967.5 47C968.8 42.4 971.2 37.8 974.2 34.5C977.2 31.2 981.1 28.6 985.5 27C989.9 25.4 995.5 24.8 1000.5 25Z"/></clipPath>
<g clip-path="url(#c6)"><g transform="rotate(33 1006.4 84.1)" filter="url(#hm)"><g transform="rotate(-33 1006.4 84.1)">
<rect x="936.8" y="-5" width="139.2" height="178.2" fill="rgb(97,133,0)"/>
<path d="M1000.5 25C1005.5 25.2 1010.9 25.8 1015.5 28.2C1020.1 30.7 1024.2 35.1 1028 39.5C1031.8 43.9 1035.3 49.1 1038 54.5C1040.7 59.9 1042.9 66.2 1044.2 72C1045.6 77.8 1046.2 83.2 1046 89.5C1045.8 95.8 1045 103.2 1043 109.5C1041 115.8 1037.8 122 1034.2 127C1030.7 132 1026.1 136.8 1021.8 139.5C1017.4 142.2 1012.8 143 1008 143.2C1003.2 143.5 997.4 143 993 140.8C988.6 138.5 984.9 133.9 981.8 129.5C978.6 125.1 976.1 119.5 974.2 114.5C972.4 109.5 971 104.1 970.5 99.5C970 94.9 971.2 91.2 971 87C970.8 82.8 970 78.7 969.2 74.5C968.5 70.3 967 66.6 966.8 62C966.5 57.4 966.2 51.6 967.5 47C968.8 42.4 971.2 37.8 974.2 34.5C977.2 31.2 981.1 28.6 985.5 27C989.9 25.4 995.5 24.8 1000.5 25Z" fill="none" stroke="rgb(107,140,0)" stroke-width="5"/>
<ellipse cx="985" cy="55" rx="14" ry="16" fill="rgb(117,140,0)"/>
<ellipse cx="1000" cy="82" rx="22" ry="30" fill="rgb(76,122,0)"/>
<ellipse cx="998" cy="80" rx="11" ry="17" fill="rgb(51,102,0)"/>
<path d="M972 40C971.5 43.3 969.2 52.5 969 60C968.8 67.5 970.2 76.7 971 85C971.8 93.3 971.7 101.7 974 110C976.3 118.3 983.2 130.8 985 135" fill="none" stroke="rgb(140,140,0)" stroke-width="8" stroke-linecap="round" stroke-linejoin="round"/>
<path d="M971 85C971.5 89.2 972.2 102.5 974 110C975.8 117.5 980.7 126.7 982 130" fill="none" stroke="rgb(178,153,0)" stroke-width="3" stroke-linecap="round" stroke-linejoin="round"/>
</g></g></g>
<path d="M1000.5 25C1005.5 25.2 1010.9 25.8 1015.5 28.2C1020.1 30.7 1024.2 35.1 1028 39.5C1031.8 43.9 1035.3 49.1 1038 54.5C1040.7 59.9 1042.9 66.2 1044.2 72C1045.6 77.8 1046.2 83.2 1046 89.5C1045.8 95.8 1045 103.2 1043 109.5C1041 115.8 1037.8 122 1034.2 127C1030.7 132 1026.1 136.8 1021.8 139.5C1017.4 142.2 1012.8 143 1008 143.2C1003.2 143.5 997.4 143 993 140.8C988.6 138.5 984.9 133.9 981.8 129.5C978.6 125.1 976.1 119.5 974.2 114.5C972.4 109.5 971 104.1 970.5 99.5C970 94.9 971.2 91.2 971 87C970.8 82.8 970 78.7 969.2 74.5C968.5 70.3 967 66.6 966.8 62C966.5 57.4 966.2 51.6 967.5 47C968.8 42.4 971.2 37.8 974.2 34.5C977.2 31.2 981.1 28.6 985.5 27C989.9 25.4 995.5 24.8 1000.5 25Z" fill="none" stroke="#fff" stroke-width="1.6" stroke-dasharray="1.35 1.25"/>
<clipPath id="c7"><path d="M1093 25.8C1097.4 26.5 1103.6 28 1108 30.8C1112.4 33.5 1115.9 37.6 1119.2 42C1122.6 46.4 1125.8 51.6 1128 57C1130.2 62.4 1132.1 68.2 1132.5 74.5C1132.9 80.8 1131.9 87.8 1130.5 94.5C1129.1 101.2 1126.8 108.2 1124.2 114.5C1121.8 120.8 1118.6 126.8 1115.5 132C1112.4 137.2 1108.8 142.8 1105.5 145.8C1102.2 148.7 1098.8 149.7 1095.5 149.5C1092.2 149.3 1088.8 147.4 1085.5 144.5C1082.2 141.6 1078.6 136.6 1075.5 132C1072.4 127.4 1069 122 1066.8 117C1064.5 112 1062.9 107 1061.8 102C1060.6 97 1060 92 1060 87C1060 82 1061.6 77 1061.8 72C1061.9 67 1060.6 62 1061 57C1061.4 52 1062.5 46.4 1064.2 42C1066 37.6 1068.8 33.3 1071.8 30.8C1074.7 28.2 1078.2 27.3 1081.8 26.5C1085.3 25.7 1088.6 25 1093 25.8Z"/></clipPath>
<g clip-path="url(#c7)"><g transform="rotate(33 1096.2 87.6)" filter="url(#hm)"><g transform="rotate(-33 1096.2 87.6)">
<rect x="1030" y="-4.2" width="132.5" height="183.8" fill="rgb(51,51,0)"/>
<path d="M1093 25.8C1097.4 26.5 1103.6 28 1108 30.8C1112.4 33.5 1115.9 37.6 1119.2 42C1122.6 46.4 1125.8 51.6 1128 57C1130.2 62.4 1132.1 68.2 1132.5 74.5C1132.9 80.8 1131.9 87.8 1130.5 94.5C1129.1 101.2 1126.8 108.2 1124.2 114.5C1121.8 120.8 1118.6 126.8 1115.5 132C1112.4 137.2 1108.8 142.8 1105.5 145.8C1102.2 148.7 1098.8 149.7 1095.5 149.5C1092.2 149.3 1088.8 147.4 1085.5 144.5C1082.2 141.6 1078.6 136.6 1075.5 132C1072.4 127.4 1069 122 1066.8 117C1064.5 112 1062.9 107 1061.8 102C1060.6 97 1060 92 1060 87C1060 82 1061.6 77 1061.8 72C1061.9 67 1060.6 62 1061 57C1061.4 52 1062.5 46.4 1064.2 42C1066 37.6 1068.8 33.3 1071.8 30.8C1074.7 28.2 1078.2 27.3 1081.8 26.5C1085.3 25.7 1088.6 25 1093 25.8Z" fill="none" stroke="rgb(76,115,0)" stroke-width="6"/>
<path d="M1068 38C1067 41.7 1063 51.3 1062 60C1061 68.7 1061 80.8 1062 90C1063 99.2 1065 107 1068 115C1071 123 1078 134.2 1080 138" fill="none" stroke="rgb(230,153,0)" stroke-width="3" stroke-linecap="round" stroke-linejoin="round"/>
<path d="M1082 60C1081.5 63.3 1078.3 73.3 1079 80C1079.7 86.7 1084.8 96.7 1086 100" fill="none" stroke="rgb(89,128,0)" stroke-width="2" stroke-linecap="round" stroke-linejoin="round"/>
<path d="M1120 45C1121.7 49.2 1128.2 61.7 1130 70C1131.8 78.3 1132.3 85.8 1131 95C1129.7 104.2 1123.5 120 1122 125" fill="none" stroke="rgb(92,128,0)" stroke-width="4" stroke-linecap="round" stroke-linejoin="round"/>
</g></g></g>
<path d="M1093 25.8C1097.4 26.5 1103.6 28 1108 30.8C1112.4 33.5 1115.9 37.6 1119.2 42C1122.6 46.4 1125.8 51.6 1128 57C1130.2 62.4 1132.1 68.2 1132.5 74.5C1132.9 80.8 1131.9 87.8 1130.5 94.5C1129.1 101.2 1126.8 108.2 1124.2 114.5C1121.8 120.8 1118.6 126.8 1115.5 132C1112.4 137.2 1108.8 142.8 1105.5 145.8C1102.2 148.7 1098.8 149.7 1095.5 149.5C1092.2 149.3 1088.8 147.4 1085.5 144.5C1082.2 141.6 1078.6 136.6 1075.5 132C1072.4 127.4 1069 122 1066.8 117C1064.5 112 1062.9 107 1061.8 102C1060.6 97 1060 92 1060 87C1060 82 1061.6 77 1061.8 72C1061.9 67 1060.6 62 1061 57C1061.4 52 1062.5 46.4 1064.2 42C1066 37.6 1068.8 33.3 1071.8 30.8C1074.7 28.2 1078.2 27.3 1081.8 26.5C1085.3 25.7 1088.6 25 1093 25.8Z" fill="none" stroke="#fff" stroke-width="1.6" stroke-dasharray="1.35 1.25"/>
<clipPath id="c8"><path d="M1179.5 25.8C1184.5 25.5 1189.5 26.4 1194.5 28.2C1199.5 30.1 1205.1 33.2 1209.5 37C1213.9 40.8 1217.8 45.8 1220.8 50.8C1223.7 55.8 1225.8 61.4 1227 67C1228.2 72.6 1228.7 78.2 1228.2 84.5C1227.8 90.8 1226.6 98.2 1224.5 104.5C1222.4 110.8 1219.3 116.8 1215.8 122C1212.2 127.2 1207.6 132.4 1203.2 135.8C1198.9 139.1 1194.3 141.4 1189.5 142C1184.7 142.6 1179.1 141.6 1174.5 139.5C1169.9 137.4 1165.5 133.2 1162 129.5C1158.5 125.8 1155.3 121.2 1153.2 117C1151.2 112.8 1149.9 108.2 1149.5 104.5C1149.1 100.8 1149.7 97.4 1150.8 94.5C1151.8 91.6 1154.5 89.3 1155.8 87C1157 84.7 1158.2 83.5 1158.2 80.8C1158.2 78 1157 74.3 1155.8 70.8C1154.5 67.2 1151.8 63 1150.8 59.5C1149.7 56 1148.9 53 1149.5 49.5C1150.1 46 1152 41.6 1154.5 38.2C1157 34.9 1160.3 31.6 1164.5 29.5C1168.7 27.4 1174.5 26 1179.5 25.8Z"/></clipPath>
<g clip-path="url(#c8)"><g transform="rotate(33 1188.9 83.9)" filter="url(#hm)"><g transform="rotate(-33 1188.9 83.9)">
<rect x="1119.5" y="-4.2" width="138.8" height="176.2" fill="rgb(76,102,0)"/>
<path d="M1179.5 25.8C1184.5 25.5 1189.5 26.4 1194.5 28.2C1199.5 30.1 1205.1 33.2 1209.5 37C1213.9 40.8 1217.8 45.8 1220.8 50.8C1223.7 55.8 1225.8 61.4 1227 67C1228.2 72.6 1228.7 78.2 1228.2 84.5C1227.8 90.8 1226.6 98.2 1224.5 104.5C1222.4 110.8 1219.3 116.8 1215.8 122C1212.2 127.2 1207.6 132.4 1203.2 135.8C1198.9 139.1 1194.3 141.4 1189.5 142C1184.7 142.6 1179.1 141.6 1174.5 139.5C1169.9 137.4 1165.5 133.2 1162 129.5C1158.5 125.8 1155.3 121.2 1153.2 117C1151.2 112.8 1149.9 108.2 1149.5 104.5C1149.1 100.8 1149.7 97.4 1150.8 94.5C1151.8 91.6 1154.5 89.3 1155.8 87C1157 84.7 1158.2 83.5 1158.2 80.8C1158.2 78 1157 74.3 1155.8 70.8C1154.5 67.2 1151.8 63 1150.8 59.5C1149.7 56 1148.9 53 1149.5 49.5C1150.1 46 1152 41.6 1154.5 38.2C1157 34.9 1160.3 31.6 1164.5 29.5C1168.7 27.4 1174.5 26 1179.5 25.8Z" fill="none" stroke="rgb(92,128,0)" stroke-width="5"/>
<ellipse cx="1178" cy="82" rx="15" ry="9" fill="rgb(43,64,0)"/>
<ellipse cx="1172" cy="70" rx="8" ry="6" fill="rgb(51,76,0)"/>
<path d="M1156 40C1155.3 42.5 1151.7 49.2 1152 55C1152.3 60.8 1158 68.3 1158 75C1158 81.7 1152 88.3 1152 95C1152 101.7 1154.2 108.3 1158 115C1161.8 121.7 1172.2 131.7 1175 135" fill="none" stroke="rgb(107,140,0)" stroke-width="8" stroke-linecap="round" stroke-linejoin="round"/>
<ellipse cx="1205" cy="50" rx="10" ry="8" fill="rgb(97,128,0)"/>
<ellipse cx="1195" cy="110" rx="12" ry="10" fill="rgb(92,122,0)"/>
</g></g></g>
<path d="M1179.5 25.8C1184.5 25.5 1189.5 26.4 1194.5 28.2C1199.5 30.1 1205.1 33.2 1209.5 37C1213.9 40.8 1217.8 45.8 1220.8 50.8C1223.7 55.8 1225.8 61.4 1227 67C1228.2 72.6 1228.7 78.2 1228.2 84.5C1227.8 90.8 1226.6 98.2 1224.5 104.5C1222.4 110.8 1219.3 116.8 1215.8 122C1212.2 127.2 1207.6 132.4 1203.2 135.8C1198.9 139.1 1194.3 141.4 1189.5 142C1184.7 142.6 1179.1 141.6 1174.5 139.5C1169.9 137.4 1165.5 133.2 1162 129.5C1158.5 125.8 1155.3 121.2 1153.2 117C1151.2 112.8 1149.9 108.2 1149.5 104.5C1149.1 100.8 1149.7 97.4 1150.8 94.5C1151.8 91.6 1154.5 89.3 1155.8 87C1157 84.7 1158.2 83.5 1158.2 80.8C1158.2 78 1157 74.3 1155.8 70.8C1154.5 67.2 1151.8 63 1150.8 59.5C1149.7 56 1148.9 53 1149.5 49.5C1150.1 46 1152 41.6 1154.5 38.2C1157 34.9 1160.3 31.6 1164.5 29.5C1168.7 27.4 1174.5 26 1179.5 25.8Z" fill="none" stroke="#fff" stroke-width="1.6" stroke-dasharray="1.35 1.25"/>
<clipPath id="c9"><path d="M490 211C494.4 211 500 211.7 505 213.5C510 215.3 515.6 218.3 520 221.8C524.4 225.2 528.2 229.7 531.2 234.2C534.2 238.8 536.6 244 538 249.2C539.4 254.5 539.8 259.9 539.5 265.5C539.2 271.1 538 277.2 536.2 283C534.5 288.8 531.9 295.3 528.8 300.5C525.6 305.7 521.7 310.7 517.5 314.2C513.3 317.8 508.1 320.7 503.8 321.8C499.4 322.8 495.2 322.2 491.2 320.5C487.3 318.8 483.3 315.3 480 311.8C476.7 308.2 473.4 303.4 471.2 299.2C469.1 295.1 467.4 290.3 467 286.8C466.6 283.2 467.4 280.3 468.8 278C470.1 275.7 473.3 275.1 475 273C476.7 270.9 478.4 268.2 478.8 265.5C479.1 262.8 478.2 259.2 477 256.8C475.8 254.2 473.2 252.6 471.2 250.5C469.3 248.4 466.6 247 465.5 244.2C464.4 241.5 464 238 464.5 234.2C465 230.5 466.4 225.2 468.8 221.8C471.1 218.3 475.2 215.3 478.8 213.5C482.3 211.7 485.6 211 490 211Z"/></clipPath>
<g clip-path="url(#c9)"><g transform="rotate(33 502 266.4)" filter="url(#hm)"><g transform="rotate(-33 502 266.4)">
<rect x="434.5" y="181" width="135" height="170.8" fill="rgb(135,140,0)"/>
<ellipse cx="530" cy="262" rx="11" ry="38" fill="rgb(107,140,0)"/>
<path d="M485 234C488 234.7 498.5 233.3 503 238C507.5 242.7 511.5 253.7 512 262C512.5 270.3 509.3 281.8 506 288C502.7 294.2 494.3 297.2 492 299" fill="none" stroke="rgb(153,148,0)" stroke-width="15" stroke-linecap="round" stroke-linejoin="round"/>
<path d="M485 234C488 234.7 498.5 233.3 503 238C507.5 242.7 511.5 253.7 512 262C512.5 270.3 509.3 281.8 506 288C502.7 294.2 494.3 297.2 492 299" fill="none" stroke="rgb(184,153,0)" stroke-width="5" stroke-linecap="round" stroke-linejoin="round"/>
<ellipse cx="492" cy="267" rx="10" ry="19" fill="rgb(69,115,0)"/>
<ellipse cx="481" cy="270" rx="9" ry="12" fill="rgb(56,102,0)"/>
<ellipse cx="480" cy="275" rx="6" ry="5" fill="rgb(20,38,0)"/>
<ellipse cx="471" cy="246" rx="7" ry="8" fill="rgb(102,128,0)"/>
<ellipse cx="474" cy="300" rx="7" ry="10" fill="rgb(107,128,0)"/>
</g></g></g>
<path d="M490 211C494.4 211 500 211.7 505 213.5C510 215.3 515.6 218.3 520 221.8C524.4 225.2 528.2 229.7 531.2 234.2C534.2 238.8 536.6 244 538 249.2C539.4 254.5 539.8 259.9 539.5 265.5C539.2 271.1 538 277.2 536.2 283C534.5 288.8 531.9 295.3 528.8 300.5C525.6 305.7 521.7 310.7 517.5 314.2C513.3 317.8 508.1 320.7 503.8 321.8C499.4 322.8 495.2 322.2 491.2 320.5C487.3 318.8 483.3 315.3 480 311.8C476.7 308.2 473.4 303.4 471.2 299.2C469.1 295.1 467.4 290.3 467 286.8C466.6 283.2 467.4 280.3 468.8 278C470.1 275.7 473.3 275.1 475 273C476.7 270.9 478.4 268.2 478.8 265.5C479.1 262.8 478.2 259.2 477 256.8C475.8 254.2 473.2 252.6 471.2 250.5C469.3 248.4 466.6 247 465.5 244.2C464.4 241.5 464 238 464.5 234.2C465 230.5 466.4 225.2 468.8 221.8C471.1 218.3 475.2 215.3 478.8 213.5C482.3 211.7 485.6 211 490 211Z" fill="none" stroke="#fff" stroke-width="1.6" stroke-dasharray="1.35 1.25"/>
<clipPath id="c10"><path d="M580 214.2C584.6 214.5 590 215.7 595 218C600 220.3 605.2 224.2 610 228C614.8 231.8 620.2 236.3 623.8 240.5C627.3 244.7 629.6 248.4 631.2 253C632.9 257.6 633.8 262.6 633.8 268C633.8 273.4 632.9 279.7 631.2 285.5C629.6 291.3 627.1 297.8 623.8 303C620.4 308.2 615.6 313.2 611.2 316.8C606.9 320.3 602.1 323.3 597.5 324.2C592.9 325.2 587.9 324.4 583.8 322.5C579.6 320.6 575.4 316.7 572.5 313C569.6 309.3 567.6 304.7 566.2 300.5C564.9 296.3 564.2 292 564.2 288C564.2 284 565.6 279.9 566.2 276.8C566.9 273.6 568.4 271.8 568 269.2C567.6 266.8 565.4 264.9 563.8 261.8C562.1 258.6 559.3 254.5 558 250.5C556.7 246.5 555.6 242.2 555.8 238C555.9 233.8 556.8 229 558.8 225.5C560.7 222 564 218.6 567.5 216.8C571 214.9 575.4 214 580 214.2Z"/></clipPath>
<g clip-path="url(#c10)"><g transform="rotate(33 594.8 269.2)" filter="url(#hm)"><g transform="rotate(-33 594.8 269.2)">
<rect x="525.8" y="184.2" width="138" height="170" fill="rgb(51,43,0)"/>
<ellipse cx="600" cy="270" rx="18" ry="25" fill="rgb(31,26,0)"/>
</g></g></g>
<path d="M580 214.2C584.6 214.5 590 215.7 595 218C600 220.3 605.2 224.2 610 228C614.8 231.8 620.2 236.3 623.8 240.5C627.3 244.7 629.6 248.4 631.2 253C632.9 257.6 633.8 262.6 633.8 268C633.8 273.4 632.9 279.7 631.2 285.5C629.6 291.3 627.1 297.8 623.8 303C620.4 308.2 615.6 313.2 611.2 316.8C606.9 320.3 602.1 323.3 597.5 324.2C592.9 325.2 587.9 324.4 583.8 322.5C579.6 320.6 575.4 316.7 572.5 313C569.6 309.3 567.6 304.7 566.2 300.5C564.9 296.3 564.2 292 564.2 288C564.2 284 565.6 279.9 566.2 276.8C566.9 273.6 568.4 271.8 568 269.2C567.6 266.8 565.4 264.9 563.8 261.8C562.1 258.6 559.3 254.5 558 250.5C556.7 246.5 555.6 242.2 555.8 238C555.9 233.8 556.8 229 558.8 225.5C560.7 222 564 218.6 567.5 216.8C571 214.9 575.4 214 580 214.2Z" fill="none" stroke="#fff" stroke-width="1.6" stroke-dasharray="1.35 1.25"/>
<clipPath id="c11"><path d="M690 215C694.8 214.8 700.6 216.7 705 219.2C709.4 221.8 712.9 226.1 716.2 230.5C719.6 234.9 722.7 240.1 725 245.5C727.3 250.9 729.2 257.2 730 263C730.8 268.8 730.8 274.2 730 280.5C729.2 286.8 727.3 294.7 725 300.5C722.7 306.3 719.8 311.3 716.2 315.5C712.7 319.7 708.3 323.4 703.8 325.5C699.2 327.6 693.3 328.4 688.8 328C684.2 327.6 679.8 325.5 676.2 323C672.7 320.5 669.4 316.3 667.5 313C665.6 309.7 665.1 306.3 665 303C664.9 299.7 667.1 296.1 667 293C666.9 289.9 665.6 287.6 664.5 284.2C663.4 280.9 661.3 277 660.5 273C659.7 269 659.2 265.1 659.5 260.5C659.8 255.9 660.7 250.3 662 245.5C663.3 240.7 665.1 235.9 667.5 231.8C669.9 227.6 672.5 223.3 676.2 220.5C680 217.7 685.2 215.2 690 215Z"/></clipPath>
<g clip-path="url(#c11)"><g transform="rotate(33 694.8 271.5)" filter="url(#hm)"><g transform="rotate(-33 694.8 271.5)">
<rect x="629.5" y="185" width="130.5" height="173" fill="rgb(61,115,0)"/>
<ellipse cx="690" cy="278" rx="24" ry="34" fill="rgb(51,102,0)"/>
<ellipse cx="690" cy="278" rx="13" ry="20" fill="rgb(38,82,0)"/>
</g></g></g>
<path d="M690 215C694.8 214.8 700.6 216.7 705 219.2C709.4 221.8 712.9 226.1 716.2 230.5C719.6 234.9 722.7 240.1 725 245.5C727.3 250.9 729.2 257.2 730 263C730.8 268.8 730.8 274.2 730 280.5C729.2 286.8 727.3 294.7 725 300.5C722.7 306.3 719.8 311.3 716.2 315.5C712.7 319.7 708.3 323.4 703.8 325.5C699.2 327.6 693.3 328.4 688.8 328C684.2 327.6 679.8 325.5 676.2 323C672.7 320.5 669.4 316.3 667.5 313C665.6 309.7 665.1 306.3 665 303C664.9 299.7 667.1 296.1 667 293C666.9 289.9 665.6 287.6 664.5 284.2C663.4 280.9 661.3 277 660.5 273C659.7 269 659.2 265.1 659.5 260.5C659.8 255.9 660.7 250.3 662 245.5C663.3 240.7 665.1 235.9 667.5 231.8C669.9 227.6 672.5 223.3 676.2 220.5C680 217.7 685.2 215.2 690 215Z" fill="none" stroke="#fff" stroke-width="1.6" stroke-dasharray="1.35 1.25"/>
<clipPath id="c12"><path d="M772.5 214.2C777.3 213.9 782.1 214.3 786.2 216C790.4 217.7 794.2 220.6 797.5 224.2C800.8 227.9 803.5 232.8 806.2 238C809 243.2 811.8 249.7 813.8 255.5C815.7 261.3 817.2 267.2 818 273C818.8 278.8 819.2 284.7 818.8 290.5C818.2 296.3 817.1 302.6 815 308C812.9 313.4 810 319 806.2 323C802.5 327 797.1 330.2 792.5 331.8C787.9 333.3 782.9 333.3 778.8 332.5C774.6 331.7 770.8 329.6 767.5 326.8C764.2 323.9 761.2 319.9 758.8 315.5C756.2 311.1 754 305.5 752.5 300.5C751 295.5 749.9 290.1 749.5 285.5C749.1 280.9 749.7 276.8 750 273C750.3 269.2 751.6 266.3 751.2 263C750.9 259.7 748.8 256.8 748 253C747.2 249.2 746.1 244.7 746.2 240.5C746.4 236.3 746.9 231.8 748.8 228C750.6 224.2 753.5 220.3 757.5 218C761.5 215.7 767.7 214.6 772.5 214.2Z"/></clipPath>
<g clip-path="url(#c12)"><g transform="rotate(33 782.5 273.4)" filter="url(#hm)"><g transform="rotate(-33 782.5 273.4)">
<rect x="716.2" y="184.2" width="132.5" height="178.2" fill="rgb(61,115,0)"/>
<ellipse cx="778" cy="276" rx="26" ry="38" fill="rgb(48,102,0)"/>
<ellipse cx="778" cy="276" rx="15" ry="25" fill="rgb(33,76,0)"/>
</g></g></g>
<path d="M772.5 214.2C777.3 213.9 782.1 214.3 786.2 216C790.4 217.7 794.2 220.6 797.5 224.2C800.8 227.9 803.5 232.8 806.2 238C809 243.2 811.8 249.7 813.8 255.5C815.7 261.3 817.2 267.2 818 273C818.8 278.8 819.2 284.7 818.8 290.5C818.2 296.3 817.1 302.6 815 308C812.9 313.4 810 319 806.2 323C802.5 327 797.1 330.2 792.5 331.8C787.9 333.3 782.9 333.3 778.8 332.5C774.6 331.7 770.8 329.6 767.5 326.8C764.2 323.9 761.2 319.9 758.8 315.5C756.2 311.1 754 305.5 752.5 300.5C751 295.5 749.9 290.1 749.5 285.5C749.1 280.9 749.7 276.8 750 273C750.3 269.2 751.6 266.3 751.2 263C750.9 259.7 748.8 256.8 748 253C747.2 249.2 746.1 244.7 746.2 240.5C746.4 236.3 746.9 231.8 748.8 228C750.6 224.2 753.5 220.3 757.5 218C761.5 215.7 767.7 214.6 772.5 214.2Z" fill="none" stroke="#fff" stroke-width="1.6" stroke-dasharray="1.35 1.25"/>
<clipPath id="c13"><path d="M905.5 212.5C909.5 212.8 915.5 213 920.5 215C925.5 217 930.9 220.4 935.5 224.2C940.1 228.1 944.7 232.8 948 238C951.3 243.2 954.2 249.7 955.5 255.5C956.8 261.3 956.5 267.2 955.5 273C954.5 278.8 952.2 284.7 949.2 290.5C946.3 296.3 942.2 303.2 938 308C933.8 312.8 928.8 316.8 924.2 319.2C919.7 321.8 914.7 323.2 910.5 323C906.3 322.8 902.6 320.9 899.2 318C895.9 315.1 893.1 309.9 890.5 305.5C887.9 301.1 885.1 295.9 883.5 291.8C881.9 287.6 880.9 283.8 881 280.5C881.1 277.2 882.7 274.5 884.2 271.8C885.8 269 890.3 266.1 890.5 264.2C890.7 262.4 887.2 262.2 885.5 260.5C883.8 258.8 881.2 257.2 880 254.2C878.8 251.3 878.3 247.2 878.5 243C878.7 238.8 879.2 233.4 881 229.2C882.8 225.1 886.6 220.6 889.2 218C891.9 215.4 894 214.4 896.8 213.5C899.5 212.6 901.5 212.2 905.5 212.5Z"/></clipPath>
<g clip-path="url(#c13)"><g transform="rotate(33 917 267.8)" filter="url(#hm)"><g transform="rotate(-33 917 267.8)">
<rect x="848.5" y="182.5" width="137" height="170.5" fill="rgb(128,76,0)"/>
<ellipse cx="911" cy="288" rx="15" ry="15" fill="rgb(158,107,0)"/>
<ellipse cx="906" cy="238" rx="17" ry="22" fill="rgb(140,92,0)"/>
<ellipse cx="888" cy="268" rx="8" ry="12" fill="rgb(26,31,0)"/>
<ellipse cx="883" cy="246" rx="7" ry="10" fill="rgb(51,46,0)"/>
<ellipse cx="884" cy="290" rx="6" ry="8" fill="rgb(64,51,0)"/>
<ellipse cx="944" cy="252" rx="11" ry="18" fill="rgb(71,69,0)"/>
<ellipse cx="936" cy="300" rx="8" ry="14" fill="rgb(92,71,0)"/>
</g></g></g>
<path d="M905.5 212.5C909.5 212.8 915.5 213 920.5 215C925.5 217 930.9 220.4 935.5 224.2C940.1 228.1 944.7 232.8 948 238C951.3 243.2 954.2 249.7 955.5 255.5C956.8 261.3 956.5 267.2 955.5 273C954.5 278.8 952.2 284.7 949.2 290.5C946.3 296.3 942.2 303.2 938 308C933.8 312.8 928.8 316.8 924.2 319.2C919.7 321.8 914.7 323.2 910.5 323C906.3 322.8 902.6 320.9 899.2 318C895.9 315.1 893.1 309.9 890.5 305.5C887.9 301.1 885.1 295.9 883.5 291.8C881.9 287.6 880.9 283.8 881 280.5C881.1 277.2 882.7 274.5 884.2 271.8C885.8 269 890.3 266.1 890.5 264.2C890.7 262.4 887.2 262.2 885.5 260.5C883.8 258.8 881.2 257.2 880 254.2C878.8 251.3 878.3 247.2 878.5 243C878.7 238.8 879.2 233.4 881 229.2C882.8 225.1 886.6 220.6 889.2 218C891.9 215.4 894 214.4 896.8 213.5C899.5 212.6 901.5 212.2 905.5 212.5Z" fill="none" stroke="#fff" stroke-width="1.6" stroke-dasharray="1.35 1.25"/>
<clipPath id="c14"><path d="M993 216.8C996.8 216.6 1003 216.8 1008 218.5C1013 220.2 1018.4 223.5 1023 226.8C1027.6 230 1032.4 233.6 1035.5 238C1038.6 242.4 1040.7 247.6 1041.8 253C1042.8 258.4 1042.6 264.7 1041.8 270.5C1040.9 276.3 1039 282.4 1036.8 288C1034.5 293.6 1031.3 299.8 1028 304.2C1024.7 308.8 1020.5 312.9 1016.8 315C1013 317.1 1009 317.4 1005.5 316.8C1002 316.1 998.4 313.7 995.5 311C992.6 308.3 989.9 304.3 988 300.5C986.1 296.7 984.9 292 984.2 288C983.6 284 983.8 280.3 984.2 276.8C984.7 273.2 987.2 269.2 986.8 266.8C986.3 264.2 983.2 263.8 981.8 261.8C980.3 259.7 978.6 257.8 978 254.2C977.4 250.7 977.6 245.1 978 240.5C978.4 235.9 979.2 230.3 980.5 226.8C981.8 223.2 983.4 220.9 985.5 219.2C987.6 217.6 989.2 216.9 993 216.8Z"/></clipPath>
<g clip-path="url(#c14)"><g transform="rotate(33 1009.9 266.8)" filter="url(#hm)"><g transform="rotate(-33 1009.9 266.8)">
<rect x="948" y="186.8" width="123.8" height="160" fill="rgb(82,33,0)"/>
</g></g></g>
<path d="M993 216.8C996.8 216.6 1003 216.8 1008 218.5C1013 220.2 1018.4 223.5 1023 226.8C1027.6 230 1032.4 233.6 1035.5 238C1038.6 242.4 1040.7 247.6 1041.8 253C1042.8 258.4 1042.6 264.7 1041.8 270.5C1040.9 276.3 1039 282.4 1036.8 288C1034.5 293.6 1031.3 299.8 1028 304.2C1024.7 308.8 1020.5 312.9 1016.8 315C1013 317.1 1009 317.4 1005.5 316.8C1002 316.1 998.4 313.7 995.5 311C992.6 308.3 989.9 304.3 988 300.5C986.1 296.7 984.9 292 984.2 288C983.6 284 983.8 280.3 984.2 276.8C984.7 273.2 987.2 269.2 986.8 266.8C986.3 264.2 983.2 263.8 981.8 261.8C980.3 259.7 978.6 257.8 978 254.2C977.4 250.7 977.6 245.1 978 240.5C978.4 235.9 979.2 230.3 980.5 226.8C981.8 223.2 983.4 220.9 985.5 219.2C987.6 217.6 989.2 216.9 993 216.8Z" fill="none" stroke="#fff" stroke-width="1.6" stroke-dasharray="1.35 1.25"/>
<clipPath id="c15"><path d="M1100.5 215.5C1105.1 215.7 1110.1 217.6 1114.2 220.5C1118.4 223.4 1122.2 228 1125.5 233C1128.8 238 1132 244.7 1134.2 250.5C1136.5 256.3 1138.3 262.2 1139.2 268C1140.2 273.8 1140.6 279.7 1140 285.5C1139.4 291.3 1137.9 297.8 1135.5 303C1133.1 308.2 1129.5 313.2 1125.5 316.8C1121.5 320.3 1117.2 322.6 1111.8 324.2C1106.3 325.9 1098.2 326.8 1093 326.8C1087.8 326.8 1084 326.1 1080.5 324.2C1077 322.4 1073.6 319 1071.8 315.5C1069.9 312 1069.2 307.2 1069.2 303C1069.2 298.8 1070.9 293.8 1071.8 290.5C1072.6 287.2 1074.9 285.1 1074.2 283C1073.6 280.9 1069.8 280.1 1068 278C1066.2 275.9 1064.1 273.4 1063.5 270.5C1062.9 267.6 1063.3 264.7 1064.2 260.5C1065.2 256.3 1067.2 250.5 1069.2 245.5C1071.3 240.5 1073.8 234.9 1076.8 230.5C1079.7 226.1 1082.8 221.8 1086.8 219.2C1090.7 216.8 1095.9 215.3 1100.5 215.5Z"/></clipPath>
<g clip-path="url(#c15)"><g transform="rotate(33 1101.8 271.1)" filter="url(#hm)"><g transform="rotate(-33 1101.8 271.1)">
<rect x="1033.5" y="185.5" width="136.5" height="171.2" fill="rgb(76,66,0)"/>
<ellipse cx="1098" cy="262" rx="8" ry="8" fill="rgb(51,46,0)"/>
</g></g></g>
<path d="M1100.5 215.5C1105.1 215.7 1110.1 217.6 1114.2 220.5C1118.4 223.4 1122.2 228 1125.5 233C1128.8 238 1132 244.7 1134.2 250.5C1136.5 256.3 1138.3 262.2 1139.2 268C1140.2 273.8 1140.6 279.7 1140 285.5C1139.4 291.3 1137.9 297.8 1135.5 303C1133.1 308.2 1129.5 313.2 1125.5 316.8C1121.5 320.3 1117.2 322.6 1111.8 324.2C1106.3 325.9 1098.2 326.8 1093 326.8C1087.8 326.8 1084 326.1 1080.5 324.2C1077 322.4 1073.6 319 1071.8 315.5C1069.9 312 1069.2 307.2 1069.2 303C1069.2 298.8 1070.9 293.8 1071.8 290.5C1072.6 287.2 1074.9 285.1 1074.2 283C1073.6 280.9 1069.8 280.1 1068 278C1066.2 275.9 1064.1 273.4 1063.5 270.5C1062.9 267.6 1063.3 264.7 1064.2 260.5C1065.2 256.3 1067.2 250.5 1069.2 245.5C1071.3 240.5 1073.8 234.9 1076.8 230.5C1079.7 226.1 1082.8 221.8 1086.8 219.2C1090.7 216.8 1095.9 215.3 1100.5 215.5Z" fill="none" stroke="#fff" stroke-width="1.6" stroke-dasharray="1.35 1.25"/>
<clipPath id="c16"><path d="M1184.5 214.2C1188.7 214.5 1194.7 215.1 1199.5 216.8C1204.3 218.4 1209.5 221.1 1213.2 224.2C1217 227.4 1219.8 231.1 1222 235.5C1224.2 239.9 1225.5 245.1 1226.5 250.5C1227.5 255.9 1228.2 262.2 1228.2 268C1228.3 273.8 1228 279.7 1227 285.5C1226 291.3 1224.5 297.8 1222 303C1219.5 308.2 1216 313 1212 316.8C1208 320.5 1203 323.8 1198.2 325.5C1193.5 327.2 1187.6 327.6 1183.2 326.8C1178.9 325.9 1175.1 323.6 1172 320.5C1168.9 317.4 1166.4 312.6 1164.5 308C1162.6 303.4 1161.2 297.6 1160.8 293C1160.2 288.4 1160.8 284.2 1161.5 280.5C1162.2 276.8 1165.1 273 1165 270.5C1164.9 268 1162.1 267.6 1160.8 265.5C1159.4 263.4 1157.8 261.8 1157 258C1156.2 254.2 1155.7 247.8 1155.8 243C1155.8 238.2 1156 233.2 1157.5 229.2C1159 225.3 1161.7 221.6 1164.5 219.2C1167.3 216.9 1171.2 215.8 1174.5 215C1177.8 214.2 1180.3 214 1184.5 214.2Z"/></clipPath>
<g clip-path="url(#c16)"><g transform="rotate(33 1192 270.5)" filter="url(#hm)"><g transform="rotate(-33 1192 270.5)">
<rect x="1125.8" y="184.2" width="132.5" height="172.5" fill="rgb(71,76,0)"/>
<ellipse cx="1182" cy="258" rx="7" ry="8" fill="rgb(31,36,0)"/>
<path d="M1180 238C1183.3 235.3 1196.7 224.7 1200 222" fill="none" stroke="rgb(97,102,0)" stroke-width="8" stroke-linecap="round" stroke-linejoin="round"/>
</g></g></g>
<path d="M1184.5 214.2C1188.7 214.5 1194.7 215.1 1199.5 216.8C1204.3 218.4 1209.5 221.1 1213.2 224.2C1217 227.4 1219.8 231.1 1222 235.5C1224.2 239.9 1225.5 245.1 1226.5 250.5C1227.5 255.9 1228.2 262.2 1228.2 268C1228.3 273.8 1228 279.7 1227 285.5C1226 291.3 1224.5 297.8 1222 303C1219.5 308.2 1216 313 1212 316.8C1208 320.5 1203 323.8 1198.2 325.5C1193.5 327.2 1187.6 327.6 1183.2 326.8C1178.9 325.9 1175.1 323.6 1172 320.5C1168.9 317.4 1166.4 312.6 1164.5 308C1162.6 303.4 1161.2 297.6 1160.8 293C1160.2 288.4 1160.8 284.2 1161.5 280.5C1162.2 276.8 1165.1 273 1165 270.5C1164.9 268 1162.1 267.6 1160.8 265.5C1159.4 263.4 1157.8 261.8 1157 258C1156.2 254.2 1155.7 247.8 1155.8 243C1155.8 238.2 1156 233.2 1157.5 229.2C1159 225.3 1161.7 221.6 1164.5 219.2C1167.3 216.9 1171.2 215.8 1174.5 215C1177.8 214.2 1180.3 214 1184.5 214.2Z" fill="none" stroke="#fff" stroke-width="1.6" stroke-dasharray="1.35 1.25"/>
<clipPath id="c17"><path d="M487.5 393.5C491.9 393.6 498.8 393.6 503.8 395C508.8 396.4 513.8 398.8 517.5 401.8C521.2 404.8 524.2 408.6 526.2 413C528.3 417.4 529 422.2 530 428C531 433.8 531.8 441.3 532 448C532.2 454.7 532 461.3 531.2 468C530.5 474.7 529.8 482.2 527.5 488C525.2 493.8 521.5 499.2 517.5 503C513.5 506.8 508.3 509.2 503.8 510.5C499.2 511.8 494.2 512 490 511C485.8 510 481.9 507.7 478.8 504.2C475.6 500.8 473.2 495.3 471.2 490.5C469.3 485.7 468 480.1 467 475.5C466 470.9 465.4 467.2 465.5 463C465.6 458.8 466.4 454.5 467.5 450.5C468.6 446.5 471.9 442.6 472 439.2C472.1 435.9 469.2 433.6 468 430.5C466.8 427.4 465.1 424 464.5 420.5C463.9 417 463.8 412.8 464.5 409.2C465.2 405.7 466.6 401.8 468.8 399.2C470.9 396.8 474.4 395.2 477.5 394.2C480.6 393.3 483.1 393.4 487.5 393.5Z"/></clipPath>
<g clip-path="url(#c17)" opacity="0.9"><g transform="rotate(33 498.2 452.2)" filter="url(#hms)"><g transform="rotate(-33 498.2 452.2)">
<rect x="434.5" y="363.5" width="127.5" height="177.5" fill="rgb(107,22,0)"/>
<ellipse cx="497" cy="440" rx="14" ry="22" fill="rgb(92,5,0)"/>
<ellipse cx="497" cy="415" rx="12" ry="10" fill="rgb(92,5,0)"/>
<ellipse cx="470" cy="470" rx="8" ry="20" fill="rgb(133,31,0)"/>
<ellipse cx="525" cy="470" rx="6" ry="10" fill="rgb(148,31,0)"/>
</g></g></g>
<path d="M487.5 393.5C491.9 393.6 498.8 393.6 503.8 395C508.8 396.4 513.8 398.8 517.5 401.8C521.2 404.8 524.2 408.6 526.2 413C528.3 417.4 529 422.2 530 428C531 433.8 531.8 441.3 532 448C532.2 454.7 532 461.3 531.2 468C530.5 474.7 529.8 482.2 527.5 488C525.2 493.8 521.5 499.2 517.5 503C513.5 506.8 508.3 509.2 503.8 510.5C499.2 511.8 494.2 512 490 511C485.8 510 481.9 507.7 478.8 504.2C475.6 500.8 473.2 495.3 471.2 490.5C469.3 485.7 468 480.1 467 475.5C466 470.9 465.4 467.2 465.5 463C465.6 458.8 466.4 454.5 467.5 450.5C468.6 446.5 471.9 442.6 472 439.2C472.1 435.9 469.2 433.6 468 430.5C466.8 427.4 465.1 424 464.5 420.5C463.9 417 463.8 412.8 464.5 409.2C465.2 405.7 466.6 401.8 468.8 399.2C470.9 396.8 474.4 395.2 477.5 394.2C480.6 393.3 483.1 393.4 487.5 393.5Z" fill="none" stroke="#fff" stroke-width="1.6" stroke-dasharray="1.35 1.25"/>
<clipPath id="c18"><path d="M577.5 393.5C581.7 393.8 587.9 395.1 592.5 397.5C597.1 399.9 601.2 404 605 408C608.8 412 612.3 417 615 421.8C617.7 426.5 620 431.5 621.2 436.8C622.5 442 622.7 447.4 622.5 453C622.3 458.6 621.7 464.7 620 470.5C618.3 476.3 615.6 483 612.5 488C609.4 493 605.4 497.7 601.2 500.5C597.1 503.3 591.9 504.8 587.5 505C583.1 505.2 578.4 504.2 575 501.8C571.6 499.3 568.9 494.9 567 490.5C565.1 486.1 564.3 480.5 563.8 475.5C563.2 470.5 563.9 464.7 563.8 460.5C563.6 456.3 563.8 453.8 563 450.5C562.2 447.2 560.1 444.2 558.8 440.5C557.4 436.8 555.6 432.4 555 428C554.4 423.6 554.2 418.6 555 414.2C555.8 409.9 557.4 404.9 559.5 401.8C561.6 398.6 564.5 396.9 567.5 395.5C570.5 394.1 573.3 393.2 577.5 393.5Z"/></clipPath>
<g clip-path="url(#c18)" opacity="0.9"><g transform="rotate(33 588.8 449.2)" filter="url(#hms)"><g transform="rotate(-33 588.8 449.2)">
<rect x="525" y="363.5" width="127.5" height="171.5" fill="rgb(107,15,0)"/>
<ellipse cx="582" cy="450" rx="13" ry="26" fill="rgb(76,0,0)"/>
</g></g></g>
<path d="M577.5 393.5C581.7 393.8 587.9 395.1 592.5 397.5C597.1 399.9 601.2 404 605 408C608.8 412 612.3 417 615 421.8C617.7 426.5 620 431.5 621.2 436.8C622.5 442 622.7 447.4 622.5 453C622.3 458.6 621.7 464.7 620 470.5C618.3 476.3 615.6 483 612.5 488C609.4 493 605.4 497.7 601.2 500.5C597.1 503.3 591.9 504.8 587.5 505C583.1 505.2 578.4 504.2 575 501.8C571.6 499.3 568.9 494.9 567 490.5C565.1 486.1 564.3 480.5 563.8 475.5C563.2 470.5 563.9 464.7 563.8 460.5C563.6 456.3 563.8 453.8 563 450.5C562.2 447.2 560.1 444.2 558.8 440.5C557.4 436.8 555.6 432.4 555 428C554.4 423.6 554.2 418.6 555 414.2C555.8 409.9 557.4 404.9 559.5 401.8C561.6 398.6 564.5 396.9 567.5 395.5C570.5 394.1 573.3 393.2 577.5 393.5Z" fill="none" stroke="#fff" stroke-width="1.6" stroke-dasharray="1.35 1.25"/>
<clipPath id="c19"><path d="M678.8 393.5C683.1 393.5 688.1 396.2 692.5 399.2C696.9 402.3 701.2 407 705 411.8C708.8 416.5 712.3 422.4 715 428C717.7 433.6 719.8 439.7 721.2 445.5C722.7 451.3 723.5 456.8 723.8 463C724 469.2 724 476.8 722.5 483C721 489.2 718.3 495.5 715 500.5C711.7 505.5 707.1 509.9 702.5 513C697.9 516.1 692.5 518.3 687.5 519.2C682.5 520.2 677.1 520 672.5 518.5C667.9 517 663.3 513.9 660 510.5C656.7 507.1 654 502.2 652.5 498C651 493.8 650.8 489 651.2 485.5C651.7 482 655 479.9 655 476.8C655 473.6 652.6 470.3 651.2 466.8C649.9 463.2 648 459.5 647 455.5C646 451.5 645.2 447.6 645.5 443C645.8 438.4 647 433 648.8 428C650.5 423 653.3 417.8 656.2 413C659.2 408.2 662.5 402.5 666.2 399.2C670 396 674.4 393.5 678.8 393.5Z"/></clipPath>
<g clip-path="url(#c19)" opacity="0.9"><g transform="rotate(33 684.6 456.4)" filter="url(#hms)"><g transform="rotate(-33 684.6 456.4)">
<rect x="615.5" y="363.5" width="138.2" height="185.8" fill="rgb(107,26,0)"/>
<ellipse cx="686" cy="456" rx="12" ry="26" fill="rgb(76,5,0)"/>
</g></g></g>
<path d="M678.8 393.5C683.1 393.5 688.1 396.2 692.5 399.2C696.9 402.3 701.2 407 705 411.8C708.8 416.5 712.3 422.4 715 428C717.7 433.6 719.8 439.7 721.2 445.5C722.7 451.3 723.5 456.8 723.8 463C724 469.2 724 476.8 722.5 483C721 489.2 718.3 495.5 715 500.5C711.7 505.5 707.1 509.9 702.5 513C697.9 516.1 692.5 518.3 687.5 519.2C682.5 520.2 677.1 520 672.5 518.5C667.9 517 663.3 513.9 660 510.5C656.7 507.1 654 502.2 652.5 498C651 493.8 650.8 489 651.2 485.5C651.7 482 655 479.9 655 476.8C655 473.6 652.6 470.3 651.2 466.8C649.9 463.2 648 459.5 647 455.5C646 451.5 645.2 447.6 645.5 443C645.8 438.4 647 433 648.8 428C650.5 423 653.3 417.8 656.2 413C659.2 408.2 662.5 402.5 666.2 399.2C670 396 674.4 393.5 678.8 393.5Z" fill="none" stroke="#fff" stroke-width="1.6" stroke-dasharray="1.35 1.25"/>
<clipPath id="c20"><path d="M770 394.2C775.2 394 780.2 394.3 785 396C789.8 397.7 794.8 400.6 798.8 404.2C802.7 407.9 806 412.8 808.8 418C811.5 423.2 813.6 429.7 815 435.5C816.4 441.3 817 446.8 817 453C817 459.2 816.4 466.8 815 473C813.6 479.2 811.7 485.1 808.8 490.5C805.8 495.9 801.9 501.5 797.5 505.5C793.1 509.5 787.5 512.8 782.5 514.2C777.5 515.7 771.9 515.5 767.5 514.2C763.1 513 759.2 510.3 756.2 506.8C753.2 503.2 751.2 497.8 749.5 493C747.8 488.2 746.8 483 746.2 478C745.7 473 745.6 467.4 746.2 463C746.9 458.6 750 455.1 750 451.8C750 448.4 747.7 446.1 746.2 443C744.8 439.9 742.3 436.8 741.2 433C740.2 429.2 739.6 424.9 740 420.5C740.4 416.1 741.5 410.6 743.8 406.8C746 402.9 749.4 399.6 753.8 397.5C758.1 395.4 764.8 394.5 770 394.2Z"/></clipPath>
<g clip-path="url(#c20)" opacity="0.9"><g transform="rotate(33 778.5 454.2)" filter="url(#hms)"><g transform="rotate(-33 778.5 454.2)">
<rect x="710" y="364.2" width="137" height="180" fill="rgb(107,18,0)"/>
<ellipse cx="772" cy="450" rx="13" ry="26" fill="rgb(76,3,0)"/>
</g></g></g>
<path d="M770 394.2C775.2 394 780.2 394.3 785 396C789.8 397.7 794.8 400.6 798.8 404.2C802.7 407.9 806 412.8 808.8 418C811.5 423.2 813.6 429.7 815 435.5C816.4 441.3 817 446.8 817 453C817 459.2 816.4 466.8 815 473C813.6 479.2 811.7 485.1 808.8 490.5C805.8 495.9 801.9 501.5 797.5 505.5C793.1 509.5 787.5 512.8 782.5 514.2C777.5 515.7 771.9 515.5 767.5 514.2C763.1 513 759.2 510.3 756.2 506.8C753.2 503.2 751.2 497.8 749.5 493C747.8 488.2 746.8 483 746.2 478C745.7 473 745.6 467.4 746.2 463C746.9 458.6 750 455.1 750 451.8C750 448.4 747.7 446.1 746.2 443C744.8 439.9 742.3 436.8 741.2 433C740.2 429.2 739.6 424.9 740 420.5C740.4 416.1 741.5 410.6 743.8 406.8C746 402.9 749.4 399.6 753.8 397.5C758.1 395.4 764.8 394.5 770 394.2Z" fill="none" stroke="#fff" stroke-width="1.6" stroke-dasharray="1.35 1.25"/>
<clipPath id="c21"><path d="M899 405.5C903.4 405.7 908.6 406.8 912.8 409.2C916.9 411.8 920.7 415.7 924 420.5C927.3 425.3 930.6 431.8 932.8 438C934.9 444.2 936.5 451.3 937 458C937.5 464.7 937.1 471.8 936 478C934.9 484.2 932.9 490.5 930.2 495.5C927.6 500.5 924.2 505 920.2 508C916.3 511 910.9 513.3 906.5 513.5C902.1 513.7 897.3 511.8 894 509.2C890.7 506.7 888.4 502.4 886.5 498C884.6 493.6 883.2 488 882.8 483C882.2 478 883.3 472.2 883.5 468C883.7 463.8 884.5 461.3 884 458C883.5 454.7 881.7 451.3 880.2 448C878.8 444.7 876.3 441.5 875.2 438C874.2 434.5 873.6 430.5 874 426.8C874.4 423 875.7 418.6 877.8 415.5C879.8 412.4 883 409.7 886.5 408C890 406.3 894.6 405.3 899 405.5Z"/></clipPath>
<g clip-path="url(#c21)" opacity="0.85"><g transform="rotate(33 905.5 459.5)" filter="url(#hms)"><g transform="rotate(-33 905.5 459.5)">
<rect x="844" y="375.5" width="123" height="168" fill="rgb(140,9,0)"/>
<ellipse cx="900" cy="462" rx="16" ry="30" fill="rgb(148,20,0)"/>
</g></g></g>
<path d="M899 405.5C903.4 405.7 908.6 406.8 912.8 409.2C916.9 411.8 920.7 415.7 924 420.5C927.3 425.3 930.6 431.8 932.8 438C934.9 444.2 936.5 451.3 937 458C937.5 464.7 937.1 471.8 936 478C934.9 484.2 932.9 490.5 930.2 495.5C927.6 500.5 924.2 505 920.2 508C916.3 511 910.9 513.3 906.5 513.5C902.1 513.7 897.3 511.8 894 509.2C890.7 506.7 888.4 502.4 886.5 498C884.6 493.6 883.2 488 882.8 483C882.2 478 883.3 472.2 883.5 468C883.7 463.8 884.5 461.3 884 458C883.5 454.7 881.7 451.3 880.2 448C878.8 444.7 876.3 441.5 875.2 438C874.2 434.5 873.6 430.5 874 426.8C874.4 423 875.7 418.6 877.8 415.5C879.8 412.4 883 409.7 886.5 408C890 406.3 894.6 405.3 899 405.5Z" fill="none" stroke="#fff" stroke-width="1.6" stroke-dasharray="1.35 1.25"/>
<clipPath id="c22"><path d="M987.8 393.5C991.5 393.7 997.1 394.3 1001.5 396.8C1005.9 399.2 1010.2 403.4 1014 408C1017.8 412.6 1021.4 418.4 1024 424.2C1026.6 430.1 1028.3 436.5 1029.5 443C1030.7 449.5 1031.3 456.3 1031 463C1030.7 469.7 1029.5 476.8 1027.8 483C1026 489.2 1023.6 495.5 1020.2 500.5C1016.9 505.5 1012.3 510.3 1007.8 513C1003.2 515.7 997.5 516.8 992.8 516.8C988 516.8 983 515.3 979 513C975 510.7 971.5 506.8 969 503C966.5 499.2 964.5 494.5 964 490.5C963.5 486.5 965.8 482.4 966 479.2C966.2 476.1 966.1 474.5 965.2 471.8C964.4 469 962 467 961 463C960 459 959.3 453.4 959 448C958.7 442.6 958.4 435.9 959 430.5C959.6 425.1 960.9 420.1 962.8 415.5C964.6 410.9 967.5 406.3 970.2 403C973 399.7 976.1 397.1 979 395.5C981.9 393.9 984 393.3 987.8 393.5Z"/></clipPath>
<g clip-path="url(#c22)" opacity="0.85"><g transform="rotate(33 995 455.1)" filter="url(#hms)"><g transform="rotate(-33 995 455.1)">
<rect x="929" y="363.5" width="132" height="183.2" fill="rgb(140,31,0)"/>
<ellipse cx="982" cy="447" rx="6" ry="7" fill="rgb(26,0,0)"/>
</g></g></g>
<path d="M987.8 393.5C991.5 393.7 997.1 394.3 1001.5 396.8C1005.9 399.2 1010.2 403.4 1014 408C1017.8 412.6 1021.4 418.4 1024 424.2C1026.6 430.1 1028.3 436.5 1029.5 443C1030.7 449.5 1031.3 456.3 1031 463C1030.7 469.7 1029.5 476.8 1027.8 483C1026 489.2 1023.6 495.5 1020.2 500.5C1016.9 505.5 1012.3 510.3 1007.8 513C1003.2 515.7 997.5 516.8 992.8 516.8C988 516.8 983 515.3 979 513C975 510.7 971.5 506.8 969 503C966.5 499.2 964.5 494.5 964 490.5C963.5 486.5 965.8 482.4 966 479.2C966.2 476.1 966.1 474.5 965.2 471.8C964.4 469 962 467 961 463C960 459 959.3 453.4 959 448C958.7 442.6 958.4 435.9 959 430.5C959.6 425.1 960.9 420.1 962.8 415.5C964.6 410.9 967.5 406.3 970.2 403C973 399.7 976.1 397.1 979 395.5C981.9 393.9 984 393.3 987.8 393.5Z" fill="none" stroke="#fff" stroke-width="1.6" stroke-dasharray="1.35 1.25"/>
<clipPath id="c23"><path d="M1089 396C1094.2 395.6 1098.6 396.8 1102.8 399.2C1106.9 401.7 1110.9 405.9 1114 410.5C1117.1 415.1 1119.4 420.9 1121.5 426.8C1123.6 432.6 1125.2 439 1126.5 445.5C1127.8 452 1128.8 458.8 1129 465.5C1129.2 472.2 1129 479.2 1127.8 485.5C1126.5 491.8 1124.4 498.2 1121.5 503C1118.6 507.8 1114.6 512 1110.2 514.2C1105.9 516.5 1100.2 517 1095.2 516.8C1090.2 516.5 1085 514.7 1080.2 513C1075.5 511.3 1070 509 1066.5 506.8C1063 504.5 1060.7 502.4 1059 499.2C1057.3 496.1 1056.7 492.4 1056.5 488C1056.3 483.6 1057.8 478 1057.8 473C1057.8 468 1056.9 463 1056.5 458C1056.1 453 1055.2 448 1055.2 443C1055.2 438 1055.5 433 1056.5 428C1057.5 423 1059 417.4 1061.5 413C1064 408.6 1066.9 404.6 1071.5 401.8C1076.1 398.9 1083.8 396.4 1089 396Z"/></clipPath>
<g clip-path="url(#c23)" opacity="0.85"><g transform="rotate(33 1092.1 456.4)" filter="url(#hms)"><g transform="rotate(-33 1092.1 456.4)">
<rect x="1025.2" y="366" width="133.8" height="180.8" fill="rgb(140,5,0)"/>
<path d="M1082 420C1080.8 423.3 1076.7 431.7 1075 440C1073.3 448.3 1070.8 461.7 1072 470C1073.2 478.3 1080.3 486.7 1082 490" fill="none" stroke="rgb(148,26,0)" stroke-width="12" stroke-linecap="round" stroke-linejoin="round"/>
<ellipse cx="1088" cy="425" rx="12" ry="10" fill="rgb(148,31,0)"/>
</g></g></g>
<path d="M1089 396C1094.2 395.6 1098.6 396.8 1102.8 399.2C1106.9 401.7 1110.9 405.9 1114 410.5C1117.1 415.1 1119.4 420.9 1121.5 426.8C1123.6 432.6 1125.2 439 1126.5 445.5C1127.8 452 1128.8 458.8 1129 465.5C1129.2 472.2 1129 479.2 1127.8 485.5C1126.5 491.8 1124.4 498.2 1121.5 503C1118.6 507.8 1114.6 512 1110.2 514.2C1105.9 516.5 1100.2 517 1095.2 516.8C1090.2 516.5 1085 514.7 1080.2 513C1075.5 511.3 1070 509 1066.5 506.8C1063 504.5 1060.7 502.4 1059 499.2C1057.3 496.1 1056.7 492.4 1056.5 488C1056.3 483.6 1057.8 478 1057.8 473C1057.8 468 1056.9 463 1056.5 458C1056.1 453 1055.2 448 1055.2 443C1055.2 438 1055.5 433 1056.5 428C1057.5 423 1059 417.4 1061.5 413C1064 408.6 1066.9 404.6 1071.5 401.8C1076.1 398.9 1083.8 396.4 1089 396Z" fill="none" stroke="#fff" stroke-width="1.6" stroke-dasharray="1.35 1.25"/>
<clipPath id="c24"><path d="M1184.5 393.5C1188 393.6 1192.4 393.7 1195.8 395.5C1199.1 397.3 1201.8 400.1 1204.5 404.2C1207.2 408.4 1209.7 414.9 1212 420.5C1214.3 426.1 1216.4 431.8 1218.2 438C1220.1 444.2 1222 451.3 1223.2 458C1224.5 464.7 1225.8 471.8 1225.8 478C1225.8 484.2 1225.1 490.3 1223.2 495.5C1221.4 500.7 1218.5 505.5 1214.5 509.2C1210.5 513 1204.5 516.1 1199.5 518C1194.5 519.9 1189.1 520.7 1184.5 520.5C1179.9 520.3 1175.3 519.2 1172 516.8C1168.7 514.2 1167 509.9 1164.5 505.5C1162 501.1 1159.1 495.1 1157 490.5C1154.9 485.9 1153 481.8 1152 478C1151 474.2 1150.1 471.1 1150.8 468C1151.4 464.9 1153.5 462.4 1155.8 459.2C1158 456.1 1163.9 452.2 1164.5 449.2C1165.1 446.3 1161.4 444.5 1159.5 441.8C1157.6 439 1154.7 436.5 1153.2 433C1151.8 429.5 1150.5 424.7 1150.8 420.5C1151 416.3 1152.2 411.5 1154.5 408C1156.8 404.5 1161.2 401.4 1164.5 399.2C1167.8 397.1 1171.2 396 1174.5 395C1177.8 394 1181 393.4 1184.5 393.5Z"/></clipPath>
<g clip-path="url(#c24)" opacity="0.85"><g transform="rotate(33 1188.2 457)" filter="url(#hms)"><g transform="rotate(-33 1188.2 457)">
<rect x="1120.8" y="363.5" width="135" height="187" fill="rgb(140,11,0)"/>
<ellipse cx="1176" cy="462" rx="8" ry="8" fill="rgb(148,26,0)"/>
</g></g></g>
<path d="M1184.5 393.5C1188 393.6 1192.4 393.7 1195.8 395.5C1199.1 397.3 1201.8 400.1 1204.5 404.2C1207.2 408.4 1209.7 414.9 1212 420.5C1214.3 426.1 1216.4 431.8 1218.2 438C1220.1 444.2 1222 451.3 1223.2 458C1224.5 464.7 1225.8 471.8 1225.8 478C1225.8 484.2 1225.1 490.3 1223.2 495.5C1221.4 500.7 1218.5 505.5 1214.5 509.2C1210.5 513 1204.5 516.1 1199.5 518C1194.5 519.9 1189.1 520.7 1184.5 520.5C1179.9 520.3 1175.3 519.2 1172 516.8C1168.7 514.2 1167 509.9 1164.5 505.5C1162 501.1 1159.1 495.1 1157 490.5C1154.9 485.9 1153 481.8 1152 478C1151 474.2 1150.1 471.1 1150.8 468C1151.4 464.9 1153.5 462.4 1155.8 459.2C1158 456.1 1163.9 452.2 1164.5 449.2C1165.1 446.3 1161.4 444.5 1159.5 441.8C1157.6 439 1154.7 436.5 1153.2 433C1151.8 429.5 1150.5 424.7 1150.8 420.5C1151 416.3 1152.2 411.5 1154.5 408C1156.8 404.5 1161.2 401.4 1164.5 399.2C1167.8 397.1 1171.2 396 1174.5 395C1177.8 394 1181 393.4 1184.5 393.5Z" fill="none" stroke="#fff" stroke-width="1.6" stroke-dasharray="1.35 1.25"/>
<rect x="29.5" y="370.5" width="121" height="145.3" fill="#000"/>
<rect x="161.8" y="369.5" width="110.2" height="147" fill="#000"/>
<rect x="283" y="369.5" width="120" height="145" fill="#000"/>
<rect x="151.3" y="373.8" width="3.7" height="24.2" fill="url(#cbar)"/>
<rect x="272.5" y="373" width="3.6" height="25" fill="url(#cbar2)"/>
<rect x="403.8" y="372.5" width="4.2" height="24.5" fill="url(#cbar)"/>
<clipPath id="c25"><rect x="29.5" y="370.5" width="121" height="145.3"/></clipPath>
<g clip-path="url(#c25)" opacity="0.8"><g transform="rotate(33 92.2 444.2)" filter="url(#hmf)"><g transform="rotate(-33 92.2 444.2)">
<rect x="-10.5" y="330.5" width="201" height="225.3" fill="#000"/>
<path d="M77.5 379.5C83.1 379.3 89.6 381.2 95 383.8C100.4 386.3 105.4 390.6 110 395C114.6 399.4 118.8 404.6 122.5 410C126.2 415.4 130 421.7 132.5 427.5C135 433.3 137.3 438.8 137.5 445C137.7 451.2 135.4 458.8 133.8 465C132.1 471.2 129.8 478.1 127.5 482.5C125.2 486.9 123.8 487.9 120 491.5C116.2 495.1 110 501.1 105 504C100 506.9 95 508.8 90 509C85 509.2 79.6 507.8 75 505.2C70.4 502.8 65.8 498.4 62.5 494C59.2 489.6 56.7 484 55 479C53.3 474 52.3 469 52.5 464C52.7 459 55.4 452.6 56.2 449C57.1 445.4 57.7 445.2 57.5 442.5C57.3 439.8 56.5 436.2 55 432.5C53.5 428.8 50.1 423.8 48.8 420C47.4 416.2 46.6 413.8 47 410C47.4 406.2 48.9 401.7 51.2 397.5C53.6 393.3 56.9 388 61.2 385C65.6 382 71.9 379.7 77.5 379.5Z" fill="rgb(133,56,0)"/>
<path d="M78 400C81.2 400 91.7 397.5 97 400C102.3 402.5 106.8 409.2 110 415C113.2 420.8 115 428.3 116 435C117 441.7 117.7 447.8 116 455C114.3 462.2 110.3 472.2 106 478C101.7 483.8 92.7 488 90 490" fill="none" stroke="rgb(173,76,0)" stroke-width="9" stroke-linecap="round" stroke-linejoin="round"/>
<ellipse cx="75" cy="460" rx="6" ry="7" fill="rgb(13,0,0)"/>
<ellipse cx="68" cy="420" rx="5" ry="4" fill="rgb(13,0,0)"/>
<ellipse cx="70" cy="397" rx="5" ry="4" fill="rgb(20,0,0)"/>
<ellipse cx="122" cy="444" rx="4" ry="3" fill="rgb(13,0,0)"/>
<ellipse cx="88" cy="440" rx="12" ry="16" fill="rgb(107,71,0)"/>
<ellipse cx="70" cy="478" rx="8" ry="12" fill="rgb(153,66,0)"/>
</g></g></g>
<clipPath id="c26"><rect x="161.8" y="369.5" width="110.2" height="147"/></clipPath>
<g clip-path="url(#c26)" opacity="0.92"><g transform="rotate(33 221.6 446.4)" filter="url(#hm2)"><g transform="rotate(-33 221.6 446.4)">
<rect x="121.8" y="329.5" width="190.2" height="227" fill="#000"/>
<path d="M210 383.8C215.4 383.5 222.1 384 227.5 386.2C232.9 388.5 237.9 393.1 242.5 397.5C247.1 401.9 251.7 407.5 255 412.5C258.3 417.5 261 422.1 262.5 427.5C264 432.9 264.2 439.2 263.8 445C263.3 450.8 261.5 456.7 260 462.5C258.5 468.3 257.5 475.6 255 480C252.5 484.4 248.8 485.4 245 489C241.2 492.6 237.1 498.2 232.5 501.5C227.9 504.8 222.5 508 217.5 509C212.5 510 206.5 509.8 202.5 507.8C198.5 505.7 196.2 501.3 193.8 496.5C191.2 491.7 189.2 484.8 187.5 479C185.8 473.2 184.8 467.3 183.8 461.5C182.7 455.7 181.9 449.7 181.2 444C180.6 438.3 180.3 432.8 180 427.5C179.7 422.2 178.9 417.5 179.5 412.5C180.1 407.5 181.2 401.7 183.8 397.5C186.3 393.3 190.6 389.8 195 387.5C199.4 385.2 204.6 384 210 383.8Z" fill="rgb(128,64,0)"/>
<ellipse cx="212" cy="440" rx="25" ry="48" fill="rgb(189,71,0)"/>
<ellipse cx="208" cy="436" rx="15" ry="36" fill="rgb(235,76,0)"/>
<ellipse cx="186" cy="432" rx="5" ry="42" fill="rgb(255,71,0)"/>
<ellipse cx="252" cy="452" rx="9" ry="38" fill="rgb(107,56,0)"/>
</g></g></g>
<clipPath id="c27"><rect x="283" y="369.5" width="120" height="145"/></clipPath>
<g clip-path="url(#c27)" opacity="0.8"><g transform="rotate(33 345.6 443.2)" filter="url(#hmf)"><g transform="rotate(-33 345.6 443.2)">
<rect x="243" y="329.5" width="200" height="225" fill="#000"/>
<path d="M330 378.8C335 378.8 342.1 380 347.5 382.5C352.9 385 357.9 389.6 362.5 393.8C367.1 397.9 371.2 402.7 375 407.5C378.8 412.3 382.5 417.5 385 422.5C387.5 427.5 389.4 432.1 390 437.5C390.6 442.9 390 449.2 388.8 455C387.5 460.8 385.2 466.7 382.5 472.5C379.8 478.3 375 486.8 372.5 490C370 493.2 370.4 489.4 367.5 491.5C364.6 493.6 359.6 500 355 502.8C350.4 505.5 345 508 340 507.8C335 507.5 329.4 504.6 325 501.5C320.6 498.4 316.5 493.6 313.8 489C311 484.4 310 479.4 308.8 474C307.5 468.6 306.7 461.3 306.2 456.5C305.8 451.7 305.6 449 306.2 445C306.9 441 310 435.8 310 432.5C310 429.2 307.7 427.9 306.2 425C304.8 422.1 302.1 418.8 301.2 415C300.4 411.2 300.2 406.7 301.2 402.5C302.3 398.3 304.8 393.3 307.5 390C310.2 386.7 313.8 384.4 317.5 382.5C321.2 380.6 325 378.8 330 378.8Z" fill="rgb(133,56,0)"/>
<path d="M320 396C323.8 396 336.3 394 343 396C349.7 398 355.5 402.7 360 408C364.5 413.3 367.8 421 370 428C372.2 435 373.8 442.3 373 450C372.2 457.7 369.3 467 365 474C360.7 481 353.2 489.3 347 492C340.8 494.7 331.2 490.3 328 490" fill="none" stroke="rgb(173,76,0)" stroke-width="8" stroke-linecap="round" stroke-linejoin="round"/>
<ellipse cx="314" cy="440" rx="5" ry="40" fill="rgb(153,71,0)"/>
<ellipse cx="330" cy="430" rx="8" ry="8" fill="rgb(20,5,0)"/>
<ellipse cx="338" cy="470" rx="10" ry="10" fill="rgb(76,36,0)"/>
<ellipse cx="345" cy="445" rx="14" ry="22" fill="rgb(107,66,0)"/>
</g></g></g>
<text x="88.2" y="534.4" text-anchor="middle" font-size="19.2" textLength="82.5" lengthAdjust="spacingAndGlyphs">Quercetin</text>
<text x="209.8" y="534.4" text-anchor="middle" font-size="19.2" textLength="80.5" lengthAdjust="spacingAndGlyphs">Myricetin</text>
<text x="346.6" y="534.4" text-anchor="middle" font-size="19.2" textLength="110.8" lengthAdjust="spacingAndGlyphs">Isorhamnetin</text>
<text x="11.5" y="53.3" font-size="24">(B)</text>
<text x="209.3" y="91.7" font-size="19.2" style="fill:#e8141c" textLength="149.7" lengthAdjust="spacingAndGlyphs">Huangkui capsule</text>
<path d="M29 244.6 L40.9 251 L33.4 251 Z" fill="#fff" stroke="#111" stroke-width="0.7" stroke-linejoin="miter"/>
<path d="M40.9 251 L29 257.6 L33.4 251 Z" fill="#111" stroke="#111" stroke-width="0.7"/>
<text x="52.2" y="257.8" font-size="19" textLength="164.5" lengthAdjust="spacingAndGlyphs">Con: Control group</text>
<path d="M29 268 L40.9 274.4 L33.4 274.4 Z" fill="#fff" stroke="#111" stroke-width="0.7" stroke-linejoin="miter"/>
<path d="M40.9 274.4 L29 281 L33.4 274.4 Z" fill="#111" stroke="#111" stroke-width="0.7"/>
<text x="52.2" y="281.2" font-size="19" textLength="339.5" lengthAdjust="spacingAndGlyphs">Mod:Type 2 diabetic nephropathy group</text>
<path d="M29 292 L40.9 298.4 L33.4 298.4 Z" fill="#fff" stroke="#111" stroke-width="0.7" stroke-linejoin="miter"/>
<path d="M40.9 298.4 L29 305 L33.4 298.4 Z" fill="#111" stroke="#111" stroke-width="0.7"/>
<text x="52.2" y="305.2" font-size="19" textLength="347.8" lengthAdjust="spacingAndGlyphs">HKH: Huangkui capsule (3.6 g/kg ) group</text>
<path d="M29 315.4 L40.9 321.8 L33.4 321.8 Z" fill="#fff" stroke="#111" stroke-width="0.7" stroke-linejoin="miter"/>
<path d="M40.9 321.8 L29 328.4 L33.4 321.8 Z" fill="#111" stroke="#111" stroke-width="0.7"/>
<text x="52.2" y="328.6" font-size="19" textLength="356.1" lengthAdjust="spacingAndGlyphs">Dap: Dapagliflozin tablets (1 mg/kg) group</text>
<g id="mouse">
<defs>
<filter id="soft" x="-5%" y="-5%" width="110%" height="110%"><feGaussianBlur stdDeviation="0.45"/></filter>
<linearGradient id="liq" x1="0" y1="0" x2="1" y2="0"><stop offset="0" stop-color="#fbcf92"/><stop offset="0.1" stop-color="#f8bd70"/><stop offset="0.42" stop-color="#f9c078"/><stop offset="0.46" stop-color="#f9c982"/><stop offset="0.85" stop-color="#fad08c"/><stop offset="1" stop-color="#f3b65c"/></linearGradient>
<linearGradient id="glass" x1="0" y1="0" x2="1" y2="0"><stop offset="0" stop-color="#c9d2d8"/><stop offset="0.2" stop-color="#eef2f4"/><stop offset="0.8" stop-color="#e6ebee"/><stop offset="1" stop-color="#c3ccd2"/></linearGradient>
<radialGradient id="capg" cx="0.4" cy="0.3" r="0.8"><stop offset="0" stop-color="#ff3a3a"/><stop offset="0.5" stop-color="#f00010"/><stop offset="1" stop-color="#d8000c"/></radialGradient>
</defs>
<g filter="url(#soft)">
<!-- tail -->
<path d="M64.6 106.9C70 110.5 74.5 114.5 77.5 120C81.5 127 83.3 137 85.3 146C87 154 90.5 161 96 167L98.5 163C93.5 158.5 90.5 153 88.3 145.5C86 137 84.3 126.5 79.6 118.8C76 113 70.5 109.3 64.6 106.9Z" fill="#c68b80"/>
<!-- hind foot -->
<path d="M103 192L108.5 194L110 202.5L117.5 206L116.5 208.2L110.5 206.6L112.6 210.2L110.3 210.8L106.5 206.8L104.6 210.6L102.3 210L102.8 206L97 208.8L95.8 207L100.3 203.3L93.2 204.6L92.6 202.4L101.5 199.5Z" fill="#d39a8f"/>
<!-- front right foot -->
<path d="M196.5 198L204.5 198L204.3 210.5L212.5 212.8L212 215L205.5 214.2L209.3 218L207.5 219.2L202.5 215.4L202.3 219.6L199.8 219.6L199.2 215.2L194.3 218.5L192.7 217L196.4 213L190.5 214.2L190 212L196.8 209.6Z" fill="#d39a8f"/>
<!-- front left foot -->
<path d="M140.2 204L148.5 204L149 211L152.3 216.5L150.3 220.5L147 218.3L145.8 221.4L143 221.3L142.2 218.4L139.4 221L136.6 219.6L137.5 216L134.8 217L134.5 214.6L139 210.5Z" fill="#d39a8f"/>
<!-- body -->
<path d="M94 173.6C94 164 96 158 98 152.9C100 148 102.5 145.5 106 142.6C110 139.3 114 136.6 119.8 134.5C124 133 128.5 131.8 133.6 131.1C140 130.2 146 129.4 152 129.4C158 129.4 164.5 130 170.4 131C177 132.2 183 133 188.8 134.5C193 135.6 196 137 198 139.1L207 160L209.5 176C210 184 209.5 188 207.2 192C205 197 202 199.5 198 201.2C192 204.5 186 206 179.6 207C173 208 167 208.2 161.2 208.1L147.4 208.1L140.5 208C136 206.5 132.5 203.5 129 201.2C125 199.3 121.5 198 117.5 196.6C113.5 195.2 109.5 194 106 192C102.5 190 100 186.5 98 182.8C96 179.5 94.3 177 94 173.6Z" fill="#575251"/>
<!-- ears -->
<ellipse cx="137" cy="141.4" rx="10" ry="10.4" fill="#cf8f88"/>
<ellipse cx="135.8" cy="141" rx="6.4" ry="7.4" fill="#e0a39c"/>
<ellipse cx="205.4" cy="142.8" rx="7.8" ry="9.6" fill="#cf8f88"/>
<ellipse cx="206.5" cy="142.4" rx="4.8" ry="6.8" fill="#e0a39c"/>
<!-- shading on rear body -->
<path d="M147 150C140 158 137 170 139 182C141 192 146 200 154 206L147.4 208.1L140.5 208C134 200 131 186 133 172C134.5 162 139 154 147 150Z" fill="#474241" opacity="0.55"/>
<!-- head -->
<path d="M137.8 168C137.8 156 143 147 152 141.5C158.5 137.6 166 136.6 173.9 136.6C182 136.6 190 138 196.5 142C204.5 147 209.7 155.5 209.7 166C209.7 177 205.5 185.5 197 189.5C190.5 192.5 182.5 194.2 173.9 194.2C165.3 194.2 157.5 192.5 151 189.5C142.5 185.5 137.8 178 137.8 168Z" fill="#5c5755" stroke="#45403f" stroke-width="0.8"/>
<!-- eyes -->
<ellipse cx="156.2" cy="158.7" rx="4.6" ry="4.8" fill="#2a1f1f"/>
<ellipse cx="189.3" cy="158.7" rx="4.6" ry="4.8" fill="#2a1f1f"/>
<ellipse cx="156.4" cy="159.2" rx="3.2" ry="3.4" fill="#0c0808"/>
<ellipse cx="189.1" cy="159.2" rx="3.2" ry="3.4" fill="#0c0808"/>
<circle cx="157.6" cy="157" r="1" fill="#f6f0f0"/>
<circle cx="188" cy="157" r="1" fill="#f6f0f0"/>
<!-- nose, mouth -->
<path d="M167 173C167 171.5 169.5 171.6 173.9 172.6C178.3 171.6 180.8 171.5 180.8 173C180.8 176.5 177.5 179.6 173.9 179.6C170.3 179.6 167 176.5 167 173Z" fill="#d6928c"/>
<path d="M166.5 183.5C169 185.5 171.5 184.6 173.2 183.2C175 184.6 178 185.5 181 183.5" fill="none" stroke="#332e2e" stroke-width="0.7"/>
<ellipse cx="173" cy="185.6" rx="2.8" ry="1.5" fill="#eaa9a6"/>
</g>
<!-- capsule -->
<g transform="translate(255.8 122.9) rotate(17.5) scale(1 1.07) translate(-255.8 -122.1)" filter="url(#soft)">
<path d="M229.5 122.1A9.0 9.0 0 0 1 238.5 113.1L260.3 113.1L252.3 131.1L238.5 131.1A9.0 9.0 0 0 1 229.5 122.1Z" fill="url(#capg)"/>
<path d="M236.5 116.1L253.3 116.1" stroke="#ff8a8a" stroke-width="2" stroke-linecap="round" opacity=".75"/>
<g fill="#f0101e"><circle cx="259.8" cy="114.7" r="1.8"/><circle cx="263.7" cy="114.6" r="1.8"/><circle cx="268.1" cy="115.1" r="1.9"/><circle cx="271.5" cy="114.9" r="1.7"/><circle cx="275.4" cy="114.7" r="1.7"/><circle cx="258.3" cy="118.5" r="1.9"/><circle cx="262.1" cy="118.1" r="1.7"/><circle cx="265.9" cy="118.4" r="1.9"/><circle cx="270.0" cy="118.0" r="1.8"/><circle cx="273.8" cy="118.3" r="1.7"/><circle cx="277.5" cy="118.0" r="2.0"/><circle cx="256.3" cy="121.6" r="1.7"/><circle cx="260.2" cy="121.7" r="2.0"/><circle cx="264.1" cy="121.6" r="1.8"/><circle cx="267.9" cy="121.6" r="1.7"/><circle cx="271.6" cy="121.8" r="1.6"/><circle cx="275.3" cy="121.7" r="1.7"/><circle cx="279.5" cy="121.6" r="1.7"/><circle cx="254.4" cy="124.8" r="1.8"/><circle cx="257.9" cy="125.0" r="1.7"/><circle cx="261.9" cy="125.1" r="1.7"/><circle cx="265.9" cy="125.2" r="1.6"/><circle cx="269.5" cy="124.8" r="1.9"/><circle cx="273.7" cy="124.8" r="1.7"/><circle cx="277.4" cy="124.9" r="1.6"/><circle cx="256.2" cy="128.6" r="2.0"/><circle cx="260.1" cy="128.6" r="1.6"/><circle cx="263.8" cy="128.6" r="1.9"/><circle cx="267.7" cy="128.6" r="1.8"/><circle cx="271.9" cy="128.2" r="1.7"/><circle cx="275.6" cy="128.1" r="1.8"/></g>
<g fill="#ff6a6a" opacity=".7"><circle cx="259.3" cy="114.1" r="0.6"/><circle cx="263.2" cy="114.0" r="0.6"/><circle cx="267.6" cy="114.5" r="0.6"/><circle cx="271.0" cy="114.3" r="0.6"/><circle cx="274.9" cy="114.1" r="0.6"/><circle cx="257.8" cy="117.9" r="0.6"/><circle cx="261.6" cy="117.5" r="0.6"/><circle cx="265.4" cy="117.8" r="0.6"/><circle cx="269.5" cy="117.4" r="0.6"/><circle cx="273.3" cy="117.7" r="0.6"/><circle cx="277.0" cy="117.4" r="0.6"/><circle cx="255.8" cy="121.0" r="0.6"/><circle cx="259.7" cy="121.1" r="0.6"/><circle cx="263.6" cy="121.0" r="0.6"/><circle cx="267.4" cy="121.0" r="0.6"/><circle cx="271.1" cy="121.2" r="0.6"/><circle cx="274.8" cy="121.1" r="0.6"/><circle cx="279.0" cy="121.0" r="0.6"/><circle cx="253.9" cy="124.2" r="0.6"/><circle cx="257.4" cy="124.4" r="0.6"/><circle cx="261.4" cy="124.5" r="0.6"/><circle cx="265.4" cy="124.6" r="0.6"/><circle cx="269.0" cy="124.2" r="0.6"/><circle cx="273.2" cy="124.2" r="0.6"/><circle cx="276.9" cy="124.3" r="0.6"/><circle cx="255.7" cy="128.0" r="0.6"/><circle cx="259.6" cy="128.0" r="0.6"/><circle cx="263.3" cy="128.0" r="0.6"/><circle cx="267.2" cy="128.0" r="0.6"/><circle cx="271.4" cy="127.6" r="0.6"/><circle cx="275.1" cy="127.5" r="0.6"/></g>
</g>
<!-- beaker -->
<g filter="url(#soft)">
<path d="M238.5 158L297 158L297 203C297 208.5 293 211 287 211L248.5 211C242.5 211 238.5 208.5 238.5 203Z" fill="url(#glass)"/>
<path d="M240 172.4C250 170.6 286 170.6 295.6 172.4L295.6 202.5C295.6 207.5 292.5 209.6 287 209.6L248.5 209.6C243 209.6 240 207.5 240 202.5Z" fill="url(#liq)"/>
<path d="M240 200L240 202.5C240 207.5 243 209.6 248.5 209.6L287 209.6C292.5 209.6 295.6 207.5 295.6 202.5L295.6 200C295.6 204.5 292 206.6 287 206.6L248.5 206.6C243.5 206.6 240 204.5 240 200Z" fill="#eeb04e" opacity=".8"/>
<ellipse cx="267.8" cy="172.4" rx="27.6" ry="2" fill="#fbd896"/>
<path d="M268 181L277 181M270 187L277 187M264 193L281 193M268 199L277 199M270 204L277 204" stroke="#fbdba0" stroke-width="0.8" fill="none"/>
<path d="M230.8 156.8C236 153 250 150.8 267 150.8C284 150.8 297 153 299 157C299 160.8 284 163.2 267 163.2C250 163.2 240 162 238.5 160.5C236 159.6 232.5 158.4 230.8 156.8Z" fill="#e6ebee" stroke="#b7c1c9" stroke-width="1.1"/>
<path d="M236 157C241 154.6 252 153.2 267 153.2C282 153.2 293 154.6 296 157.2" fill="none" stroke="#bcc5cc" stroke-width="2"/>
<path d="M238.5 160.5L238.5 203C238.5 208.5 242.5 211 248.5 211L287 211C293 211 297 208.5 297 203L297 160" fill="none" stroke="#c3ccd3" stroke-width="1"/>
</g>
</g>

</svg></body></html>
